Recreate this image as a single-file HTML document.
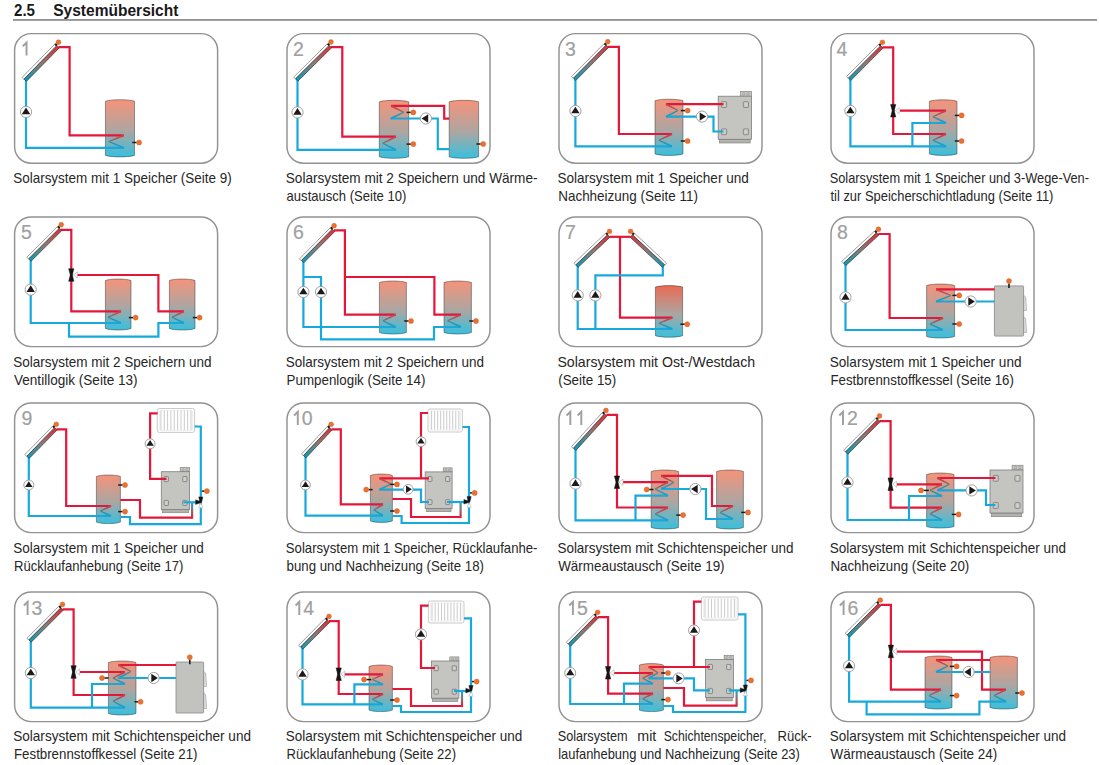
<!DOCTYPE html>
<html><head><meta charset="utf-8"><title>Systemübersicht</title>
<style>
html,body{margin:0;padding:0;background:#fff;width:1099px;height:765px;overflow:hidden}
svg{display:block}
.h{font-family:"Liberation Sans",sans-serif;font-weight:bold;font-size:16.8px;fill:#1a1a1a}
.c{font-family:"Liberation Sans",sans-serif;font-size:14.4px;fill:#262626}
.num{font-family:"Liberation Sans",sans-serif;font-size:19.5px;fill:#a0a0a0;stroke:#a0a0a0;stroke-width:0.2}
</style></head><body>
<svg width="1099" height="765" viewBox="0 0 1099 765">
<text x="14" y="15.7" class="h" textLength="21" lengthAdjust="spacingAndGlyphs">2.5</text>
<text x="53.2" y="15.7" class="h" textLength="125.2" lengthAdjust="spacingAndGlyphs">Systemübersicht</text>
<rect x="13" y="19.2" width="1084" height="1.5" fill="#7a7a7a"/>
<rect x="14.6" y="33.6" width="203" height="129.6" rx="16.5" ry="16.5" fill="#fff" stroke="#929292" stroke-width="1.45"/><path d="M22.85 46.2 L26.55 42.5 L26.55 55.6" fill="none" stroke="#a0a0a0" stroke-width="1.95" stroke-linejoin="miter"/><defs><linearGradient id="g1" x1="0" y1="0" x2="0" y2="1"><stop offset="0" stop-color="#f5937a"/><stop offset="0.55" stop-color="#aca6a2"/><stop offset="1" stop-color="#38c0de"/></linearGradient></defs><path d="M105.45 101.2 C111.26 99.2 128.69 99.2 134.5 101.2 L134.5 155.4 C128.69 157.4 111.26 157.4 105.45 155.4 Z" fill="url(#g1)" stroke="rgba(40,40,40,0.6)" stroke-width="0.75"/><path d="M58.5 47.15 L69.6 47.15 L69.6 135.3 L123.8 135.3" fill="none" stroke="#e3173a" stroke-width="2.2" stroke-linejoin="miter" stroke-linecap="butt"/><path d="M26 80 L26 147.8 L123.8 147.8" fill="none" stroke="#17a9dc" stroke-width="2.2" stroke-linejoin="miter" stroke-linecap="butt"/><defs><linearGradient id="g2" gradientUnits="userSpaceOnUse" x1="123.8" y1="135.3" x2="108.8" y2="141.55"><stop offset="0" stop-color="#d83a40"/><stop offset="1" stop-color="#8a6a66"/></linearGradient></defs><polygon points="123.42,134.38 108.59,141.04 109.01,142.06 124.18,136.22" fill="url(#g2)"/><defs><linearGradient id="g3" gradientUnits="userSpaceOnUse" x1="108.8" y1="141.55" x2="123.8" y2="147.8"><stop offset="0" stop-color="#3a8a98"/><stop offset="1" stop-color="#16a4d4"/></linearGradient></defs><polygon points="108.59,142.06 123.42,148.72 124.18,146.88 109.01,141.04" fill="url(#g3)"/><line x1="132.3" y1="142.5" x2="136.7" y2="142.5" stroke="#1a1a1a" stroke-width="1.5"/><circle cx="139.1" cy="142.5" r="2.55" fill="#ee7030" stroke="#c85a20" stroke-width="0.4"/><circle cx="26" cy="111.9" r="5.6" fill="#fff" stroke="#9c9c9c" stroke-width="0.95"/><polygon points="26,107.6 21.8,114.2 30.2,114.2" fill="#1a1a1a"/><defs><linearGradient id="g4" gradientUnits="userSpaceOnUse" x1="26" y1="81" x2="58.8" y2="47.56"><stop offset="0" stop-color="#0a9cba"/><stop offset="0.5" stop-color="#8e7a76"/><stop offset="1" stop-color="#dc3038"/></linearGradient></defs><polygon points="23.9,79.22 56.49,45.99 54.67,44.21 22.08,77.43" fill="#fff" stroke="#6a6a6a" stroke-width="0.65"/><polygon points="26.39,81.39 59.19,47.95 56.84,45.63 24.04,79.07" fill="url(#g4)" stroke="#2e2e2e" stroke-width="0.65"/><line x1="55.31" y1="45.4" x2="56.78" y2="43.9" stroke="#1a1a1a" stroke-width="2.3"/><circle cx="58.47" cy="42.19" r="2.45" fill="#ee7030" stroke="#c85a20" stroke-width="0.4"/>
<rect x="287" y="33.6" width="203" height="129.6" rx="16.5" ry="16.5" fill="#fff" stroke="#929292" stroke-width="1.45"/><text x="293" y="55.6" class="num">2</text><defs><linearGradient id="g5" x1="0" y1="0" x2="0" y2="1"><stop offset="0" stop-color="#f5937a"/><stop offset="0.55" stop-color="#aca6a2"/><stop offset="1" stop-color="#38c0de"/></linearGradient></defs><path d="M379.3 101.8 C385.18 99.8 402.82 99.8 408.7 101.8 L408.7 156.8 C402.82 158.8 385.18 158.8 379.3 156.8 Z" fill="url(#g5)" stroke="rgba(40,40,40,0.6)" stroke-width="0.75"/><defs><linearGradient id="g6" x1="0" y1="0" x2="0" y2="1"><stop offset="0" stop-color="#f5937a"/><stop offset="0.55" stop-color="#aca6a2"/><stop offset="1" stop-color="#38c0de"/></linearGradient></defs><path d="M449.2 101.8 C455.08 99.8 472.72 99.8 478.6 101.8 L478.6 156.8 C472.72 158.8 455.08 158.8 449.2 156.8 Z" fill="url(#g6)" stroke="rgba(40,40,40,0.6)" stroke-width="0.75"/><path d="M331 47.1 L342.3 47.1 L342.3 136.7 L396 136.7" fill="none" stroke="#e3173a" stroke-width="2.2" stroke-linejoin="miter" stroke-linecap="butt"/><path d="M297.5 79 L297.5 149.8 L396 149.8" fill="none" stroke="#17a9dc" stroke-width="2.2" stroke-linejoin="miter" stroke-linecap="butt"/><defs><linearGradient id="g7" gradientUnits="userSpaceOnUse" x1="396" y1="136.7" x2="382.8" y2="143.25"><stop offset="0" stop-color="#d83a40"/><stop offset="1" stop-color="#8a6a66"/></linearGradient></defs><polygon points="395.56,135.8 382.56,142.76 383.04,143.74 396.44,137.6" fill="url(#g7)"/><defs><linearGradient id="g8" gradientUnits="userSpaceOnUse" x1="382.8" y1="143.25" x2="396" y2="149.8"><stop offset="0" stop-color="#3a8a98"/><stop offset="1" stop-color="#16a4d4"/></linearGradient></defs><polygon points="382.56,143.74 395.56,150.7 396.44,148.9 383.04,142.76" fill="url(#g8)"/><path d="M391 105.9 L444.2 105.9 L444.2 118.6 L449.2 118.6" fill="none" stroke="#e3173a" stroke-width="2.2" stroke-linejoin="miter" stroke-linecap="butt"/><path d="M390.6 118.5 L437.8 118.5 L437.8 149.2 L449.2 149.2" fill="none" stroke="#17a9dc" stroke-width="2.2" stroke-linejoin="miter" stroke-linecap="butt"/><defs><linearGradient id="g9" gradientUnits="userSpaceOnUse" x1="391" y1="105.9" x2="403.8" y2="112.2"><stop offset="0" stop-color="#d83a40"/><stop offset="1" stop-color="#8a6a66"/></linearGradient></defs><polygon points="390.56,106.8 403.56,112.69 404.04,111.71 391.44,105" fill="url(#g9)"/><defs><linearGradient id="g10" gradientUnits="userSpaceOnUse" x1="403.8" y1="112.2" x2="391" y2="118.5"><stop offset="0" stop-color="#3a8a98"/><stop offset="1" stop-color="#16a4d4"/></linearGradient></defs><polygon points="403.56,111.71 390.56,117.6 391.44,119.4 404.04,112.69" fill="url(#g10)"/><line x1="406.5" y1="112.4" x2="410.9" y2="112.4" stroke="#1a1a1a" stroke-width="1.5"/><circle cx="413.3" cy="112.4" r="2.55" fill="#ee7030" stroke="#c85a20" stroke-width="0.4"/><line x1="406.5" y1="144.1" x2="410.9" y2="144.1" stroke="#1a1a1a" stroke-width="1.5"/><circle cx="413.3" cy="144.1" r="2.55" fill="#ee7030" stroke="#c85a20" stroke-width="0.4"/><line x1="476.4" y1="144" x2="480.8" y2="144" stroke="#1a1a1a" stroke-width="1.5"/><circle cx="483.2" cy="144" r="2.55" fill="#ee7030" stroke="#c85a20" stroke-width="0.4"/><circle cx="297.5" cy="112.4" r="5.6" fill="#fff" stroke="#9c9c9c" stroke-width="0.95"/><polygon points="297.5,108.1 293.3,114.7 301.7,114.7" fill="#1a1a1a"/><circle cx="425.9" cy="118.5" r="5.6" fill="#fff" stroke="#9c9c9c" stroke-width="0.95"/><polygon points="421.6,118.5 428.2,114.3 428.2,122.7" fill="#1a1a1a"/><defs><linearGradient id="g11" gradientUnits="userSpaceOnUse" x1="297.5" y1="80.75" x2="331.2" y2="47.4"><stop offset="0" stop-color="#0a9cba"/><stop offset="0.5" stop-color="#8e7a76"/><stop offset="1" stop-color="#dc3038"/></linearGradient></defs><polygon points="295.42,78.94 328.91,45.8 327.12,43.98 293.63,77.12" fill="#fff" stroke="#6a6a6a" stroke-width="0.65"/><polygon points="297.89,81.14 331.59,47.79 329.27,45.45 295.57,78.8" fill="url(#g11)" stroke="#2e2e2e" stroke-width="0.65"/><line x1="327.75" y1="45.19" x2="329.24" y2="43.71" stroke="#1a1a1a" stroke-width="2.3"/><circle cx="330.95" cy="42.02" r="2.45" fill="#ee7030" stroke="#c85a20" stroke-width="0.4"/>
<rect x="559" y="33.6" width="203" height="129.6" rx="16.5" ry="16.5" fill="#fff" stroke="#929292" stroke-width="1.45"/><text x="565" y="55.6" class="num">3</text><defs><linearGradient id="g12" x1="0" y1="0" x2="0" y2="1"><stop offset="0" stop-color="#f5937a"/><stop offset="0.55" stop-color="#aca6a2"/><stop offset="1" stop-color="#38c0de"/></linearGradient></defs><path d="M655 100.7 C660.6 98.7 677.4 98.7 683 100.7 L683 153.9 C677.4 155.9 660.6 155.9 655 153.9 Z" fill="url(#g12)" stroke="rgba(40,40,40,0.6)" stroke-width="0.75"/><rect x="719.53" y="139.3" width="30.64" height="3.66" fill="#b2b2ae" stroke="#858585" stroke-width="0.7"/><rect x="740.51" y="91.46" width="10.99" height="4.74" fill="#c8c8c4" stroke="#858585" stroke-width="0.7"/><circle cx="743.81" cy="93.83" r="1.19" fill="none" stroke="#888" stroke-width="0.5"/><circle cx="748.2" cy="93.83" r="1.19" fill="none" stroke="#888" stroke-width="0.5"/><rect x="718.2" y="96.2" width="33.3" height="43.1" fill="#c4c4c0" stroke="#7e7e7e" stroke-width="0.8"/><rect x="721.46" y="101.67" width="5.16" height="5.82" rx="0.7" fill="#c8c8c4" stroke="#777" stroke-width="0.75"/><line x1="724.04" y1="102.67" x2="724.04" y2="106.49" stroke="#e4e4e0" stroke-width="0.5"/><rect x="721.46" y="128.87" width="5.16" height="5.82" rx="0.7" fill="#c8c8c4" stroke="#777" stroke-width="0.75"/><line x1="724.04" y1="129.87" x2="724.04" y2="133.69" stroke="#e4e4e0" stroke-width="0.5"/><rect x="743.34" y="101.67" width="5.16" height="5.82" rx="0.7" fill="#c8c8c4" stroke="#777" stroke-width="0.75"/><line x1="745.92" y1="102.67" x2="745.92" y2="106.49" stroke="#e4e4e0" stroke-width="0.5"/><rect x="743.34" y="128.87" width="5.16" height="5.82" rx="0.7" fill="#c8c8c4" stroke="#777" stroke-width="0.75"/><line x1="745.92" y1="129.87" x2="745.92" y2="133.69" stroke="#e4e4e0" stroke-width="0.5"/><path d="M607.6 46.8 L618.9 46.8 L618.9 134 L672 134" fill="none" stroke="#e3173a" stroke-width="2.2" stroke-linejoin="miter" stroke-linecap="butt"/><path d="M575.4 79 L575.4 146.4 L672 146.4" fill="none" stroke="#17a9dc" stroke-width="2.2" stroke-linejoin="miter" stroke-linecap="butt"/><defs><linearGradient id="g13" gradientUnits="userSpaceOnUse" x1="672" y1="134" x2="659" y2="140.2"><stop offset="0" stop-color="#d83a40"/><stop offset="1" stop-color="#8a6a66"/></linearGradient></defs><polygon points="671.57,133.1 658.76,139.7 659.24,140.7 672.43,134.9" fill="url(#g13)"/><defs><linearGradient id="g14" gradientUnits="userSpaceOnUse" x1="659" y1="140.2" x2="672" y2="146.4"><stop offset="0" stop-color="#3a8a98"/><stop offset="1" stop-color="#16a4d4"/></linearGradient></defs><polygon points="658.76,140.7 671.57,147.3 672.43,145.5 659.24,139.7" fill="url(#g14)"/><path d="M666 104.2 L723.5 104.2" fill="none" stroke="#e3173a" stroke-width="2.2" stroke-linejoin="miter" stroke-linecap="butt"/><path d="M666 116.6 L713.5 116.6 L713.5 131.5 L723.5 131.5" fill="none" stroke="#17a9dc" stroke-width="2.2" stroke-linejoin="miter" stroke-linecap="butt"/><defs><linearGradient id="g15" gradientUnits="userSpaceOnUse" x1="666" y1="104.2" x2="678" y2="110.4"><stop offset="0" stop-color="#d83a40"/><stop offset="1" stop-color="#8a6a66"/></linearGradient></defs><polygon points="665.54,105.09 677.75,110.89 678.25,109.91 666.46,103.31" fill="url(#g15)"/><defs><linearGradient id="g16" gradientUnits="userSpaceOnUse" x1="678" y1="110.4" x2="666" y2="116.6"><stop offset="0" stop-color="#3a8a98"/><stop offset="1" stop-color="#16a4d4"/></linearGradient></defs><polygon points="677.75,109.91 665.54,115.71 666.46,117.49 678.25,110.89" fill="url(#g16)"/><line x1="680.8" y1="110.6" x2="685.2" y2="110.6" stroke="#1a1a1a" stroke-width="1.5"/><circle cx="687.6" cy="110.6" r="2.55" fill="#ee7030" stroke="#c85a20" stroke-width="0.4"/><line x1="680.8" y1="141" x2="685.2" y2="141" stroke="#1a1a1a" stroke-width="1.5"/><circle cx="687.6" cy="141" r="2.55" fill="#ee7030" stroke="#c85a20" stroke-width="0.4"/><circle cx="575.4" cy="111" r="5.6" fill="#fff" stroke="#9c9c9c" stroke-width="0.95"/><polygon points="575.4,106.7 571.2,113.3 579.6,113.3" fill="#1a1a1a"/><circle cx="702" cy="116.6" r="5.6" fill="#fff" stroke="#9c9c9c" stroke-width="0.95"/><polygon points="706.3,116.6 699.7,112.4 699.7,120.8" fill="#1a1a1a"/><defs><linearGradient id="g17" gradientUnits="userSpaceOnUse" x1="575.4" y1="80.1" x2="608.1" y2="47.1"><stop offset="0" stop-color="#0a9cba"/><stop offset="0.5" stop-color="#8e7a76"/><stop offset="1" stop-color="#dc3038"/></linearGradient></defs><polygon points="573.31,78.31 605.79,45.52 603.98,43.72 571.49,76.51" fill="#fff" stroke="#6a6a6a" stroke-width="0.65"/><polygon points="575.79,80.49 608.49,47.49 606.15,45.16 573.45,78.16" fill="url(#g17)" stroke="#2e2e2e" stroke-width="0.65"/><line x1="604.63" y1="44.92" x2="606.1" y2="43.43" stroke="#1a1a1a" stroke-width="2.3"/><circle cx="607.79" cy="41.73" r="2.45" fill="#ee7030" stroke="#c85a20" stroke-width="0.4"/>
<rect x="831" y="33.6" width="203" height="129.6" rx="16.5" ry="16.5" fill="#fff" stroke="#929292" stroke-width="1.45"/><text x="836.4" y="55.6" class="num">4</text><defs><linearGradient id="g18" x1="0" y1="0" x2="0" y2="1"><stop offset="0" stop-color="#f5937a"/><stop offset="0.55" stop-color="#aca6a2"/><stop offset="1" stop-color="#38c0de"/></linearGradient></defs><path d="M929.4 101.3 C934.92 99.3 951.48 99.3 957 101.3 L957 153.9 C951.48 155.9 934.92 155.9 929.4 153.9 Z" fill="url(#g18)" stroke="rgba(40,40,40,0.6)" stroke-width="0.75"/><path d="M882.5 47.4 L893.2 47.4 L893.2 134 L946 134" fill="none" stroke="#e3173a" stroke-width="2.2" stroke-linejoin="miter" stroke-linecap="butt"/><path d="M900 110.6 L946 110.6" fill="none" stroke="#e3173a" stroke-width="2.2" stroke-linejoin="miter" stroke-linecap="butt"/><path d="M850.4 79 L850.4 146.4 L946 146.4" fill="none" stroke="#17a9dc" stroke-width="2.2" stroke-linejoin="miter" stroke-linecap="butt"/><path d="M946 123 L912.4 123 L912.4 146.4" fill="none" stroke="#17a9dc" stroke-width="2.2" stroke-linejoin="miter" stroke-linecap="butt"/><defs><linearGradient id="g19" gradientUnits="userSpaceOnUse" x1="946" y1="110.6" x2="933" y2="116.8"><stop offset="0" stop-color="#d83a40"/><stop offset="1" stop-color="#8a6a66"/></linearGradient></defs><polygon points="945.57,109.7 932.76,116.3 933.24,117.3 946.43,111.5" fill="url(#g19)"/><defs><linearGradient id="g20" gradientUnits="userSpaceOnUse" x1="933" y1="116.8" x2="946" y2="123"><stop offset="0" stop-color="#3a8a98"/><stop offset="1" stop-color="#16a4d4"/></linearGradient></defs><polygon points="932.76,117.3 945.57,123.9 946.43,122.1 933.24,116.3" fill="url(#g20)"/><defs><linearGradient id="g21" gradientUnits="userSpaceOnUse" x1="946" y1="134" x2="933" y2="140.2"><stop offset="0" stop-color="#d83a40"/><stop offset="1" stop-color="#8a6a66"/></linearGradient></defs><polygon points="945.57,133.1 932.76,139.7 933.24,140.7 946.43,134.9" fill="url(#g21)"/><defs><linearGradient id="g22" gradientUnits="userSpaceOnUse" x1="933" y1="140.2" x2="946" y2="146.4"><stop offset="0" stop-color="#3a8a98"/><stop offset="1" stop-color="#16a4d4"/></linearGradient></defs><polygon points="932.76,140.7 945.57,147.3 946.43,145.5 933.24,139.7" fill="url(#g22)"/><line x1="954.8" y1="115.4" x2="959.2" y2="115.4" stroke="#1a1a1a" stroke-width="1.5"/><circle cx="961.6" cy="115.4" r="2.55" fill="#ee7030" stroke="#c85a20" stroke-width="0.4"/><line x1="954.8" y1="141" x2="959.2" y2="141" stroke="#1a1a1a" stroke-width="1.5"/><circle cx="961.6" cy="141" r="2.55" fill="#ee7030" stroke="#c85a20" stroke-width="0.4"/><polygon points="890.6,104.4 895.8,104.4 894.2,110.7 892.2,110.7" fill="#151515" stroke="#151515" stroke-width="0.5" stroke-linejoin="round"/><polygon points="890.6,117 895.8,117 894.2,110.7 892.2,110.7" fill="#151515" stroke="#151515" stroke-width="0.5" stroke-linejoin="round"/><polygon points="895.3,110.7 899.2,107.6 899.2,113.8" fill="#fff" stroke="#a8a8a8" stroke-width="0.6" stroke-linejoin="round"/><circle cx="850.4" cy="111" r="5.6" fill="#fff" stroke="#9c9c9c" stroke-width="0.95"/><polygon points="850.4,106.7 846.2,113.3 854.6,113.3" fill="#1a1a1a"/><defs><linearGradient id="g23" gradientUnits="userSpaceOnUse" x1="850.4" y1="80.1" x2="882.7" y2="47.7"><stop offset="0" stop-color="#0a9cba"/><stop offset="0.5" stop-color="#8e7a76"/><stop offset="1" stop-color="#dc3038"/></linearGradient></defs><polygon points="848.31,78.3 880.4,46.11 878.59,44.31 846.51,76.5" fill="#fff" stroke="#6a6a6a" stroke-width="0.65"/><polygon points="850.79,80.49 883.09,48.09 880.75,45.76 848.45,78.16" fill="url(#g23)" stroke="#2e2e2e" stroke-width="0.65"/><line x1="879.23" y1="45.51" x2="880.71" y2="44.03" stroke="#1a1a1a" stroke-width="2.3"/><circle cx="882.41" cy="42.33" r="2.45" fill="#ee7030" stroke="#c85a20" stroke-width="0.4"/>
<rect x="14.6" y="217" width="203" height="129.6" rx="16.5" ry="16.5" fill="#fff" stroke="#929292" stroke-width="1.45"/><text x="21" y="238.5" class="num">5</text><defs><linearGradient id="g24" x1="0" y1="0" x2="0" y2="1"><stop offset="0" stop-color="#f5937a"/><stop offset="0.55" stop-color="#aca6a2"/><stop offset="1" stop-color="#38c0de"/></linearGradient></defs><path d="M105.4 280.5 C110.52 278.5 125.88 278.5 131 280.5 L131 328.5 C125.88 330.5 110.52 330.5 105.4 328.5 Z" fill="url(#g24)" stroke="rgba(40,40,40,0.6)" stroke-width="0.75"/><defs><linearGradient id="g25" x1="0" y1="0" x2="0" y2="1"><stop offset="0" stop-color="#f5937a"/><stop offset="0.55" stop-color="#aca6a2"/><stop offset="1" stop-color="#38c0de"/></linearGradient></defs><path d="M169.4 280.5 C174.52 278.5 189.88 278.5 195 280.5 L195 328.5 C189.88 330.5 174.52 330.5 169.4 328.5 Z" fill="url(#g25)" stroke="rgba(40,40,40,0.6)" stroke-width="0.75"/><path d="M61 229.8 L71.3 229.8 L71.3 311.4 L121 311.4" fill="none" stroke="#e3173a" stroke-width="2.2" stroke-linejoin="miter" stroke-linecap="butt"/><path d="M77 275 L158.4 275 L158.4 311.4 L184 311.4" fill="none" stroke="#e3173a" stroke-width="2.2" stroke-linejoin="miter" stroke-linecap="butt"/><path d="M30.7 260 L30.7 323 L121 323" fill="none" stroke="#17a9dc" stroke-width="2.2" stroke-linejoin="miter" stroke-linecap="butt"/><path d="M69 323 L69 336.6 L158.4 336.6 L158.4 323 L184 323" fill="none" stroke="#17a9dc" stroke-width="2.2" stroke-linejoin="miter" stroke-linecap="butt"/><defs><linearGradient id="g26" gradientUnits="userSpaceOnUse" x1="121" y1="311.4" x2="108" y2="317.2"><stop offset="0" stop-color="#d83a40"/><stop offset="1" stop-color="#8a6a66"/></linearGradient></defs><polygon points="120.59,310.49 107.78,316.7 108.22,317.7 121.41,312.31" fill="url(#g26)"/><defs><linearGradient id="g27" gradientUnits="userSpaceOnUse" x1="108" y1="317.2" x2="121" y2="323"><stop offset="0" stop-color="#3a8a98"/><stop offset="1" stop-color="#16a4d4"/></linearGradient></defs><polygon points="107.78,317.7 120.59,323.91 121.41,322.09 108.22,316.7" fill="url(#g27)"/><defs><linearGradient id="g28" gradientUnits="userSpaceOnUse" x1="184" y1="311.4" x2="172" y2="317.2"><stop offset="0" stop-color="#d83a40"/><stop offset="1" stop-color="#8a6a66"/></linearGradient></defs><polygon points="183.56,310.5 171.76,316.7 172.24,317.7 184.44,312.3" fill="url(#g28)"/><defs><linearGradient id="g29" gradientUnits="userSpaceOnUse" x1="172" y1="317.2" x2="184" y2="323"><stop offset="0" stop-color="#3a8a98"/><stop offset="1" stop-color="#16a4d4"/></linearGradient></defs><polygon points="171.76,317.7 183.56,323.9 184.44,322.1 172.24,316.7" fill="url(#g29)"/><line x1="128.8" y1="317.6" x2="133.2" y2="317.6" stroke="#1a1a1a" stroke-width="1.5"/><circle cx="135.6" cy="317.6" r="2.55" fill="#ee7030" stroke="#c85a20" stroke-width="0.4"/><line x1="192.8" y1="317.6" x2="197.2" y2="317.6" stroke="#1a1a1a" stroke-width="1.5"/><circle cx="199.6" cy="317.6" r="2.55" fill="#ee7030" stroke="#c85a20" stroke-width="0.4"/><polygon points="68.7,268.7 73.9,268.7 72.3,275 70.3,275" fill="#151515" stroke="#151515" stroke-width="0.5" stroke-linejoin="round"/><polygon points="68.7,281.3 73.9,281.3 72.3,275 70.3,275" fill="#151515" stroke="#151515" stroke-width="0.5" stroke-linejoin="round"/><polygon points="73.4,275 77.3,271.9 77.3,278.1" fill="#fff" stroke="#a8a8a8" stroke-width="0.6" stroke-linejoin="round"/><circle cx="30.7" cy="289.6" r="5.6" fill="#fff" stroke="#9c9c9c" stroke-width="0.95"/><polygon points="30.7,285.3 26.5,291.9 34.9,291.9" fill="#1a1a1a"/><defs><linearGradient id="g30" gradientUnits="userSpaceOnUse" x1="30.7" y1="260.8" x2="61.5" y2="230.1"><stop offset="0" stop-color="#0a9cba"/><stop offset="0.5" stop-color="#8e7a76"/><stop offset="1" stop-color="#dc3038"/></linearGradient></defs><polygon points="28.62,258.99 59.2,228.51 57.4,226.7 26.82,257.19" fill="#fff" stroke="#6a6a6a" stroke-width="0.65"/><polygon points="31.09,261.19 61.89,230.49 59.56,228.15 28.76,258.85" fill="url(#g30)" stroke="#2e2e2e" stroke-width="0.65"/><line x1="58.04" y1="227.9" x2="59.53" y2="226.42" stroke="#1a1a1a" stroke-width="2.3"/><circle cx="61.23" cy="224.73" r="2.45" fill="#ee7030" stroke="#c85a20" stroke-width="0.4"/>
<rect x="287" y="217" width="203" height="129.6" rx="16.5" ry="16.5" fill="#fff" stroke="#929292" stroke-width="1.45"/><text x="293" y="238.5" class="num">6</text><defs><linearGradient id="g31" x1="0" y1="0" x2="0" y2="1"><stop offset="0" stop-color="#f5937a"/><stop offset="0.55" stop-color="#aca6a2"/><stop offset="1" stop-color="#38c0de"/></linearGradient></defs><path d="M379.4 282.5 C384.8 280.5 401 280.5 406.4 282.5 L406.4 332.5 C401 334.5 384.8 334.5 379.4 332.5 Z" fill="url(#g31)" stroke="rgba(40,40,40,0.6)" stroke-width="0.75"/><defs><linearGradient id="g32" x1="0" y1="0" x2="0" y2="1"><stop offset="0" stop-color="#f5937a"/><stop offset="0.55" stop-color="#aca6a2"/><stop offset="1" stop-color="#38c0de"/></linearGradient></defs><path d="M444 282.5 C449.48 280.5 465.92 280.5 471.4 282.5 L471.4 332.5 C465.92 334.5 449.48 334.5 444 332.5 Z" fill="url(#g32)" stroke="rgba(40,40,40,0.6)" stroke-width="0.75"/><path d="M334 230.4 L344.9 230.4 L344.9 314.6 L395.6 314.6" fill="none" stroke="#e3173a" stroke-width="2.2" stroke-linejoin="miter" stroke-linecap="butt"/><path d="M344.9 277 L434.4 277 L434.4 314.6 L461 314.6" fill="none" stroke="#e3173a" stroke-width="2.2" stroke-linejoin="miter" stroke-linecap="butt"/><path d="M303.4 261 L303.4 327 L395.6 327" fill="none" stroke="#17a9dc" stroke-width="2.2" stroke-linejoin="miter" stroke-linecap="butt"/><path d="M303.4 277 L321 277 L321 339.4 L434 339.4 L434 327 L461 327" fill="none" stroke="#17a9dc" stroke-width="2.2" stroke-linejoin="miter" stroke-linecap="butt"/><defs><linearGradient id="g33" gradientUnits="userSpaceOnUse" x1="395.6" y1="314.6" x2="383" y2="320.8"><stop offset="0" stop-color="#d83a40"/><stop offset="1" stop-color="#8a6a66"/></linearGradient></defs><polygon points="395.16,313.7 382.76,320.31 383.24,321.29 396.04,315.5" fill="url(#g33)"/><defs><linearGradient id="g34" gradientUnits="userSpaceOnUse" x1="383" y1="320.8" x2="395.6" y2="327"><stop offset="0" stop-color="#3a8a98"/><stop offset="1" stop-color="#16a4d4"/></linearGradient></defs><polygon points="382.76,321.29 395.16,327.9 396.04,326.1 383.24,320.31" fill="url(#g34)"/><defs><linearGradient id="g35" gradientUnits="userSpaceOnUse" x1="461" y1="314.6" x2="447.6" y2="320.8"><stop offset="0" stop-color="#d83a40"/><stop offset="1" stop-color="#8a6a66"/></linearGradient></defs><polygon points="460.58,313.69 447.37,320.3 447.83,321.3 461.42,315.51" fill="url(#g35)"/><defs><linearGradient id="g36" gradientUnits="userSpaceOnUse" x1="447.6" y1="320.8" x2="461" y2="327"><stop offset="0" stop-color="#3a8a98"/><stop offset="1" stop-color="#16a4d4"/></linearGradient></defs><polygon points="447.37,321.3 460.58,327.91 461.42,326.09 447.83,320.3" fill="url(#g36)"/><line x1="404.2" y1="321" x2="408.6" y2="321" stroke="#1a1a1a" stroke-width="1.5"/><circle cx="411" cy="321" r="2.55" fill="#ee7030" stroke="#c85a20" stroke-width="0.4"/><line x1="469.2" y1="321" x2="473.6" y2="321" stroke="#1a1a1a" stroke-width="1.5"/><circle cx="476" cy="321" r="2.55" fill="#ee7030" stroke="#c85a20" stroke-width="0.4"/><circle cx="303.4" cy="292" r="5.6" fill="#fff" stroke="#9c9c9c" stroke-width="0.95"/><polygon points="303.4,287.7 299.2,294.3 307.6,294.3" fill="#1a1a1a"/><circle cx="321" cy="292" r="5.6" fill="#fff" stroke="#9c9c9c" stroke-width="0.95"/><polygon points="321,287.7 316.8,294.3 325.2,294.3" fill="#1a1a1a"/><defs><linearGradient id="g37" gradientUnits="userSpaceOnUse" x1="303.4" y1="262.4" x2="334.4" y2="231.1"><stop offset="0" stop-color="#0a9cba"/><stop offset="0.5" stop-color="#8e7a76"/><stop offset="1" stop-color="#dc3038"/></linearGradient></defs><polygon points="301.31,260.61 332.09,229.52 330.28,227.73 299.49,258.81" fill="#fff" stroke="#6a6a6a" stroke-width="0.65"/><polygon points="303.79,262.79 334.79,231.49 332.45,229.16 301.45,260.46" fill="url(#g37)" stroke="#2e2e2e" stroke-width="0.65"/><line x1="330.92" y1="228.92" x2="332.4" y2="227.43" stroke="#1a1a1a" stroke-width="2.3"/><circle cx="334.09" cy="225.73" r="2.45" fill="#ee7030" stroke="#c85a20" stroke-width="0.4"/>
<rect x="559" y="217" width="203" height="129.6" rx="16.5" ry="16.5" fill="#fff" stroke="#929292" stroke-width="1.45"/><text x="565.1" y="238.5" class="num">7</text><defs><linearGradient id="g38" x1="0" y1="0" x2="0" y2="1"><stop offset="0" stop-color="#ea6a52"/><stop offset="0.55" stop-color="#aca6a2"/><stop offset="1" stop-color="#38c0de"/></linearGradient></defs><path d="M655.4 287.1 C660.84 285.1 677.16 285.1 682.6 287.1 L682.6 335.7 C677.16 337.7 660.84 337.7 655.4 335.7 Z" fill="url(#g38)" stroke="rgba(40,40,40,0.6)" stroke-width="0.75"/><path d="M609.6 236.8 L630.5 236.8" fill="none" stroke="#e3173a" stroke-width="2.2" stroke-linejoin="miter" stroke-linecap="butt"/><path d="M620 236.8 L620 317.6 L672.4 317.6" fill="none" stroke="#e3173a" stroke-width="2.2" stroke-linejoin="miter" stroke-linecap="butt"/><path d="M577.7 265 L577.7 329 L672.4 329" fill="none" stroke="#17a9dc" stroke-width="2.2" stroke-linejoin="miter" stroke-linecap="butt"/><path d="M662.8 265 L662.8 275.4 L595.4 275.4 L595.4 329" fill="none" stroke="#17a9dc" stroke-width="2.2" stroke-linejoin="miter" stroke-linecap="butt"/><defs><linearGradient id="g39" gradientUnits="userSpaceOnUse" x1="672.4" y1="317.6" x2="659" y2="323.3"><stop offset="0" stop-color="#d83a40"/><stop offset="1" stop-color="#8a6a66"/></linearGradient></defs><polygon points="672.01,316.68 658.78,322.79 659.22,323.81 672.79,318.52" fill="url(#g39)"/><defs><linearGradient id="g40" gradientUnits="userSpaceOnUse" x1="659" y1="323.3" x2="672.4" y2="329"><stop offset="0" stop-color="#3a8a98"/><stop offset="1" stop-color="#16a4d4"/></linearGradient></defs><polygon points="658.78,323.81 672.01,329.92 672.79,328.08 659.22,322.79" fill="url(#g40)"/><line x1="680.4" y1="324.2" x2="684.8" y2="324.2" stroke="#1a1a1a" stroke-width="1.5"/><circle cx="687.2" cy="324.2" r="2.55" fill="#ee7030" stroke="#c85a20" stroke-width="0.4"/><circle cx="577.7" cy="295.4" r="5.6" fill="#fff" stroke="#9c9c9c" stroke-width="0.95"/><polygon points="577.7,291.1 573.5,297.7 581.9,297.7" fill="#1a1a1a"/><circle cx="595.4" cy="295.4" r="5.6" fill="#fff" stroke="#9c9c9c" stroke-width="0.95"/><polygon points="595.4,291.1 591.2,297.7 599.6,297.7" fill="#1a1a1a"/><defs><linearGradient id="g41" gradientUnits="userSpaceOnUse" x1="577.7" y1="266.9" x2="609.6" y2="236.8"><stop offset="0" stop-color="#0a9cba"/><stop offset="0.5" stop-color="#8e7a76"/><stop offset="1" stop-color="#dc3038"/></linearGradient></defs><polygon points="575.67,265.04 607.35,235.14 605.6,233.29 573.92,263.18" fill="#fff" stroke="#6a6a6a" stroke-width="0.65"/><polygon points="578.08,267.3 609.98,237.2 607.71,234.8 575.81,264.9" fill="url(#g41)" stroke="#2e2e2e" stroke-width="0.65"/><line x1="606.2" y1="234.51" x2="607.73" y2="233.07" stroke="#1a1a1a" stroke-width="2.3"/><circle cx="609.47" cy="231.42" r="2.45" fill="#ee7030" stroke="#c85a20" stroke-width="0.4"/><defs><linearGradient id="g42" gradientUnits="userSpaceOnUse" x1="662.8" y1="266.9" x2="630.5" y2="236.8"><stop offset="0" stop-color="#0a9cba"/><stop offset="0.5" stop-color="#8e7a76"/><stop offset="1" stop-color="#dc3038"/></linearGradient></defs><polygon points="664.82,265.02 632.74,235.13 634.48,233.26 666.56,263.16" fill="#fff" stroke="#6a6a6a" stroke-width="0.65"/><polygon points="662.43,267.3 630.13,237.2 632.37,234.79 664.67,264.89" fill="url(#g42)" stroke="#2e2e2e" stroke-width="0.65"/><line x1="633.89" y1="234.49" x2="632.35" y2="233.06" stroke="#1a1a1a" stroke-width="2.3"/><circle cx="630.59" cy="231.42" r="2.45" fill="#ee7030" stroke="#c85a20" stroke-width="0.4"/>
<rect x="831" y="217" width="203" height="129.6" rx="16.5" ry="16.5" fill="#fff" stroke="#929292" stroke-width="1.45"/><text x="837" y="238.5" class="num">8</text><defs><linearGradient id="g43" x1="0" y1="0" x2="0" y2="1"><stop offset="0" stop-color="#f5937a"/><stop offset="0.55" stop-color="#aca6a2"/><stop offset="1" stop-color="#38c0de"/></linearGradient></defs><path d="M926.6 285.5 C932.2 283.5 949 283.5 954.6 285.5 L954.6 336.5 C949 338.5 932.2 338.5 926.6 336.5 Z" fill="url(#g43)" stroke="rgba(40,40,40,0.6)" stroke-width="0.75"/><path d="M1023.6 295.4 L1025.6 296.9 L1026.6 310.5 L1023.6 310.5 Z" fill="#e0e0dc" stroke="#9a9a9a" stroke-width="0.6"/><path d="M1023.6 316.9 L1025.6 318.4 L1026.6 332.4 L1023.6 332.4 Z" fill="#e0e0dc" stroke="#9a9a9a" stroke-width="0.6"/><rect x="994.4" y="285.9" width="29.2" height="50.2" rx="0.8" fill="#c2c2be" stroke="#888" stroke-width="0.8"/><line x1="1009" y1="288.1" x2="1009" y2="283.4" stroke="#1a1a1a" stroke-width="1.6"/><circle cx="1009" cy="281.1" r="2.5" fill="#ee7030" stroke="#c85a20" stroke-width="0.4"/><path d="M878.3 234 L889.6 234 L889.6 318 L943 318" fill="none" stroke="#e3173a" stroke-width="2.2" stroke-linejoin="miter" stroke-linecap="butt"/><path d="M845.5 264 L845.5 330 L943 330" fill="none" stroke="#17a9dc" stroke-width="2.2" stroke-linejoin="miter" stroke-linecap="butt"/><defs><linearGradient id="g44" gradientUnits="userSpaceOnUse" x1="943" y1="318" x2="930" y2="324"><stop offset="0" stop-color="#d83a40"/><stop offset="1" stop-color="#8a6a66"/></linearGradient></defs><polygon points="942.58,317.09 929.77,323.5 930.23,324.5 943.42,318.91" fill="url(#g44)"/><defs><linearGradient id="g45" gradientUnits="userSpaceOnUse" x1="930" y1="324" x2="943" y2="330"><stop offset="0" stop-color="#3a8a98"/><stop offset="1" stop-color="#16a4d4"/></linearGradient></defs><polygon points="929.77,324.5 942.58,330.91 943.42,329.09 930.23,323.5" fill="url(#g45)"/><path d="M936 289.4 L994.6 289.4" fill="none" stroke="#e3173a" stroke-width="2.2" stroke-linejoin="miter" stroke-linecap="butt"/><path d="M936 301.5 L994.6 301.5" fill="none" stroke="#17a9dc" stroke-width="2.2" stroke-linejoin="miter" stroke-linecap="butt"/><defs><linearGradient id="g46" gradientUnits="userSpaceOnUse" x1="936" y1="289.4" x2="951" y2="295.45"><stop offset="0" stop-color="#d83a40"/><stop offset="1" stop-color="#8a6a66"/></linearGradient></defs><polygon points="935.63,290.33 950.79,295.96 951.21,294.94 936.37,288.47" fill="url(#g46)"/><defs><linearGradient id="g47" gradientUnits="userSpaceOnUse" x1="951" y1="295.45" x2="936" y2="301.5"><stop offset="0" stop-color="#3a8a98"/><stop offset="1" stop-color="#16a4d4"/></linearGradient></defs><polygon points="950.79,294.94 935.63,300.57 936.37,302.43 951.21,295.96" fill="url(#g47)"/><line x1="952.4" y1="295.4" x2="956.8" y2="295.4" stroke="#1a1a1a" stroke-width="1.5"/><circle cx="959.2" cy="295.4" r="2.55" fill="#ee7030" stroke="#c85a20" stroke-width="0.4"/><line x1="952.4" y1="324" x2="956.8" y2="324" stroke="#1a1a1a" stroke-width="1.5"/><circle cx="959.2" cy="324" r="2.55" fill="#ee7030" stroke="#c85a20" stroke-width="0.4"/><circle cx="845.5" cy="297.4" r="5.6" fill="#fff" stroke="#9c9c9c" stroke-width="0.95"/><polygon points="845.5,293.1 841.3,299.7 849.7,299.7" fill="#1a1a1a"/><circle cx="970.6" cy="301.5" r="5.6" fill="#fff" stroke="#9c9c9c" stroke-width="0.95"/><polygon points="974.9,301.5 968.3,297.3 968.3,305.7" fill="#1a1a1a"/><defs><linearGradient id="g48" gradientUnits="userSpaceOnUse" x1="845.5" y1="265.1" x2="878.5" y2="234.7"><stop offset="0" stop-color="#0a9cba"/><stop offset="0.5" stop-color="#8e7a76"/><stop offset="1" stop-color="#dc3038"/></linearGradient></defs><polygon points="843.49,263.21 876.27,233.02 874.54,231.14 841.76,261.34" fill="#fff" stroke="#6a6a6a" stroke-width="0.65"/><polygon points="845.87,265.5 878.87,235.1 876.64,232.68 843.64,263.08" fill="url(#g48)" stroke="#2e2e2e" stroke-width="0.65"/><line x1="875.13" y1="232.37" x2="876.67" y2="230.95" stroke="#1a1a1a" stroke-width="2.3"/><circle cx="878.44" cy="229.32" r="2.45" fill="#ee7030" stroke="#c85a20" stroke-width="0.4"/>
<rect x="14.6" y="403" width="203" height="129.6" rx="16.5" ry="16.5" fill="#fff" stroke="#929292" stroke-width="1.45"/><text x="21.5" y="424.9" class="num">9</text><defs><linearGradient id="g49" x1="0" y1="0" x2="0" y2="1"><stop offset="0" stop-color="#f5937a"/><stop offset="0.55" stop-color="#aca6a2"/><stop offset="1" stop-color="#38c0de"/></linearGradient></defs><path d="M96.4 476.5 C101.2 474.5 115.6 474.5 120.4 476.5 L120.4 522.1 C115.6 524.1 101.2 524.1 96.4 522.1 Z" fill="url(#g49)" stroke="rgba(40,40,40,0.6)" stroke-width="0.75"/><rect x="162.43" y="509.5" width="26.04" height="3.21" fill="#b2b2ae" stroke="#858585" stroke-width="0.7"/><rect x="180.26" y="467.54" width="9.34" height="4.16" fill="#c8c8c4" stroke="#858585" stroke-width="0.7"/><circle cx="183.06" cy="469.62" r="1.04" fill="none" stroke="#888" stroke-width="0.5"/><circle cx="186.8" cy="469.62" r="1.04" fill="none" stroke="#888" stroke-width="0.5"/><rect x="161.3" y="471.7" width="28.3" height="37.8" fill="#c4c4c0" stroke="#7e7e7e" stroke-width="0.8"/><rect x="164.07" y="476.5" width="4.39" height="5.1" rx="0.7" fill="#c8c8c4" stroke="#777" stroke-width="0.75"/><line x1="166.27" y1="477.5" x2="166.27" y2="480.6" stroke="#e4e4e0" stroke-width="0.5"/><rect x="164.07" y="500.35" width="4.39" height="5.1" rx="0.7" fill="#c8c8c4" stroke="#777" stroke-width="0.75"/><line x1="166.27" y1="501.35" x2="166.27" y2="504.46" stroke="#e4e4e0" stroke-width="0.5"/><rect x="182.67" y="476.5" width="4.39" height="5.1" rx="0.7" fill="#c8c8c4" stroke="#777" stroke-width="0.75"/><line x1="184.86" y1="477.5" x2="184.86" y2="480.6" stroke="#e4e4e0" stroke-width="0.5"/><rect x="182.67" y="500.35" width="4.39" height="5.1" rx="0.7" fill="#c8c8c4" stroke="#777" stroke-width="0.75"/><line x1="184.86" y1="501.35" x2="184.86" y2="504.46" stroke="#e4e4e0" stroke-width="0.5"/><rect x="157.3" y="408.5" width="37.3" height="23.9" rx="2" fill="#fff" stroke="#c4c4c4" stroke-width="0.9"/><rect x="159.3" y="410.3" width="33.3" height="20.3" rx="1" fill="none" stroke="#dcdcdc" stroke-width="0.5"/><line x1="160.9" y1="410.7" x2="160.9" y2="430" stroke="#a8a8a8" stroke-width="0.6"/><line x1="164.24" y1="410.7" x2="164.24" y2="430" stroke="#a8a8a8" stroke-width="0.6"/><line x1="167.59" y1="410.7" x2="167.59" y2="430" stroke="#a8a8a8" stroke-width="0.6"/><line x1="170.93" y1="410.7" x2="170.93" y2="430" stroke="#a8a8a8" stroke-width="0.6"/><line x1="174.28" y1="410.7" x2="174.28" y2="430" stroke="#a8a8a8" stroke-width="0.6"/><line x1="177.62" y1="410.7" x2="177.62" y2="430" stroke="#a8a8a8" stroke-width="0.6"/><line x1="180.97" y1="410.7" x2="180.97" y2="430" stroke="#a8a8a8" stroke-width="0.6"/><line x1="184.31" y1="410.7" x2="184.31" y2="430" stroke="#a8a8a8" stroke-width="0.6"/><line x1="187.66" y1="410.7" x2="187.66" y2="430" stroke="#a8a8a8" stroke-width="0.6"/><line x1="191" y1="410.7" x2="191" y2="430" stroke="#a8a8a8" stroke-width="0.6"/><path d="M56.4 429.4 L66.2 429.4 L66.2 506 L111 506" fill="none" stroke="#e3173a" stroke-width="2.2" stroke-linejoin="miter" stroke-linecap="butt"/><path d="M28.8 457 L28.8 516 L111 516" fill="none" stroke="#17a9dc" stroke-width="2.2" stroke-linejoin="miter" stroke-linecap="butt"/><defs><linearGradient id="g50" gradientUnits="userSpaceOnUse" x1="111" y1="506" x2="100.4" y2="511"><stop offset="0" stop-color="#d83a40"/><stop offset="1" stop-color="#8a6a66"/></linearGradient></defs><polygon points="110.57,505.1 100.17,510.5 100.63,511.5 111.43,506.9" fill="url(#g50)"/><defs><linearGradient id="g51" gradientUnits="userSpaceOnUse" x1="100.4" y1="511" x2="111" y2="516"><stop offset="0" stop-color="#3a8a98"/><stop offset="1" stop-color="#16a4d4"/></linearGradient></defs><polygon points="100.17,511.5 110.57,516.9 111.43,515.1 100.63,510.5" fill="url(#g51)"/><path d="M157.6 413.4 L150.1 413.4 L150.1 478.8 L166.5 478.8" fill="none" stroke="#e3173a" stroke-width="2.2" stroke-linejoin="miter" stroke-linecap="butt"/><path d="M120.4 500 L140 500 L140 517.7 L192.1 517.7" fill="none" stroke="#e3173a" stroke-width="2.2" stroke-linejoin="miter" stroke-linecap="butt"/><defs><linearGradient id="g52" gradientUnits="userSpaceOnUse" x1="0" y1="518.8" x2="0" y2="502.6"><stop offset="0" stop-color="#e3173a"/><stop offset="0.5" stop-color="#8c7068"/><stop offset="1" stop-color="#17a9dc"/></linearGradient></defs><rect x="191" y="502.6" width="2.2" height="16.2" fill="url(#g52)"/><path d="M120.4 517 L130 517 L130 524.1 L200.8 524.1 L200.8 426.5 L194.6 426.5" fill="none" stroke="#17a9dc" stroke-width="2.2" stroke-linejoin="miter" stroke-linecap="butt"/><path d="M183.4 502.3 L196 502.3" fill="none" stroke="#17a9dc" stroke-width="2.2" stroke-linejoin="miter" stroke-linecap="butt"/><line x1="118.2" y1="485" x2="122.6" y2="485" stroke="#1a1a1a" stroke-width="1.5"/><circle cx="125" cy="485" r="2.55" fill="#ee7030" stroke="#c85a20" stroke-width="0.4"/><line x1="118.2" y1="511.6" x2="122.6" y2="511.6" stroke="#1a1a1a" stroke-width="1.5"/><circle cx="125" cy="511.6" r="2.55" fill="#ee7030" stroke="#c85a20" stroke-width="0.4"/><line x1="201.8" y1="491.1" x2="204.5" y2="491.1" stroke="#1a1a1a" stroke-width="1.5"/><circle cx="206.9" cy="491.1" r="2.55" fill="#ee7030" stroke="#c85a20" stroke-width="0.4"/><polygon points="195.6,499.8 195.6,504.4 200.5,502.8 200.5,501.4" fill="#151515" stroke="#151515" stroke-width="0.4" stroke-linejoin="round"/><polygon points="198.7,496.9 202.9,496.9 201.6,502.4 200,502.4" fill="#151515" stroke="#151515" stroke-width="0.4" stroke-linejoin="round"/><polygon points="198.6,507.7 203,507.7 200.8,502.9" fill="#fff" stroke="#aaaaaa" stroke-width="0.5" stroke-linejoin="round"/><circle cx="28.8" cy="485" r="5" fill="#fff" stroke="#9c9c9c" stroke-width="0.95"/><polygon points="28.8,481.16 25.05,487.05 32.55,487.05" fill="#1a1a1a"/><circle cx="150.1" cy="443.8" r="5" fill="#fff" stroke="#9c9c9c" stroke-width="0.95"/><polygon points="150.1,439.96 146.35,445.85 153.85,445.85" fill="#1a1a1a"/><defs><linearGradient id="g53" gradientUnits="userSpaceOnUse" x1="28.8" y1="458.1" x2="56.6" y2="429.7"><stop offset="0" stop-color="#0a9cba"/><stop offset="0.5" stop-color="#8e7a76"/><stop offset="1" stop-color="#dc3038"/></linearGradient></defs><polygon points="26.69,456.32 54.29,428.13 52.46,426.35 24.87,454.54" fill="#fff" stroke="#6a6a6a" stroke-width="0.65"/><polygon points="29.19,458.48 56.99,430.08 54.63,427.78 26.83,456.18" fill="url(#g53)" stroke="#2e2e2e" stroke-width="0.65"/><line x1="53.11" y1="427.55" x2="54.58" y2="426.04" stroke="#1a1a1a" stroke-width="2.3"/><circle cx="56.26" cy="424.33" r="2.45" fill="#ee7030" stroke="#c85a20" stroke-width="0.4"/>
<rect x="287" y="403" width="203" height="129.6" rx="16.5" ry="16.5" fill="#fff" stroke="#929292" stroke-width="1.45"/><path d="M294.1 415.5 L297.8 411.8 L297.8 424.9" fill="none" stroke="#a0a0a0" stroke-width="1.95" stroke-linejoin="miter"/><text x="301.8" y="424.9" class="num">0</text><defs><linearGradient id="g54" x1="0" y1="0" x2="0" y2="1"><stop offset="0" stop-color="#f5937a"/><stop offset="0.55" stop-color="#aca6a2"/><stop offset="1" stop-color="#38c0de"/></linearGradient></defs><path d="M370.4 475.5 C374.8 473.5 388 473.5 392.4 475.5 L392.4 520.9 C388 522.9 374.8 522.9 370.4 520.9 Z" fill="url(#g54)" stroke="rgba(40,40,40,0.6)" stroke-width="0.75"/><rect x="426.28" y="508.5" width="24.75" height="3.11" fill="#b2b2ae" stroke="#858585" stroke-width="0.7"/><rect x="443.22" y="467.87" width="8.88" height="4.03" fill="#c8c8c4" stroke="#858585" stroke-width="0.7"/><circle cx="445.89" cy="469.89" r="1.01" fill="none" stroke="#888" stroke-width="0.5"/><circle cx="449.44" cy="469.89" r="1.01" fill="none" stroke="#888" stroke-width="0.5"/><rect x="425.2" y="471.9" width="26.9" height="36.6" fill="#c4c4c0" stroke="#7e7e7e" stroke-width="0.8"/><rect x="427.84" y="476.55" width="4.17" height="4.94" rx="0.7" fill="#c8c8c4" stroke="#777" stroke-width="0.75"/><line x1="429.92" y1="477.55" x2="429.92" y2="480.49" stroke="#e4e4e0" stroke-width="0.5"/><rect x="427.84" y="499.64" width="4.17" height="4.94" rx="0.7" fill="#c8c8c4" stroke="#777" stroke-width="0.75"/><line x1="429.92" y1="500.64" x2="429.92" y2="503.58" stroke="#e4e4e0" stroke-width="0.5"/><rect x="445.51" y="476.55" width="4.17" height="4.94" rx="0.7" fill="#c8c8c4" stroke="#777" stroke-width="0.75"/><line x1="447.59" y1="477.55" x2="447.59" y2="480.49" stroke="#e4e4e0" stroke-width="0.5"/><rect x="445.51" y="499.64" width="4.17" height="4.94" rx="0.7" fill="#c8c8c4" stroke="#777" stroke-width="0.75"/><line x1="447.59" y1="500.64" x2="447.59" y2="503.58" stroke="#e4e4e0" stroke-width="0.5"/><rect x="428" y="409" width="34.4" height="23" rx="2" fill="#fff" stroke="#c4c4c4" stroke-width="0.9"/><rect x="430" y="410.8" width="30.4" height="19.4" rx="1" fill="none" stroke="#dcdcdc" stroke-width="0.5"/><line x1="431.6" y1="411.2" x2="431.6" y2="429.6" stroke="#a8a8a8" stroke-width="0.6"/><line x1="434.62" y1="411.2" x2="434.62" y2="429.6" stroke="#a8a8a8" stroke-width="0.6"/><line x1="437.64" y1="411.2" x2="437.64" y2="429.6" stroke="#a8a8a8" stroke-width="0.6"/><line x1="440.67" y1="411.2" x2="440.67" y2="429.6" stroke="#a8a8a8" stroke-width="0.6"/><line x1="443.69" y1="411.2" x2="443.69" y2="429.6" stroke="#a8a8a8" stroke-width="0.6"/><line x1="446.71" y1="411.2" x2="446.71" y2="429.6" stroke="#a8a8a8" stroke-width="0.6"/><line x1="449.73" y1="411.2" x2="449.73" y2="429.6" stroke="#a8a8a8" stroke-width="0.6"/><line x1="452.76" y1="411.2" x2="452.76" y2="429.6" stroke="#a8a8a8" stroke-width="0.6"/><line x1="455.78" y1="411.2" x2="455.78" y2="429.6" stroke="#a8a8a8" stroke-width="0.6"/><line x1="458.8" y1="411.2" x2="458.8" y2="429.6" stroke="#a8a8a8" stroke-width="0.6"/><path d="M331.4 429.4 L340.8 429.4 L340.8 504.4 L383 504.4" fill="none" stroke="#e3173a" stroke-width="2.2" stroke-linejoin="miter" stroke-linecap="butt"/><path d="M305.5 456 L305.5 515.6 L383 515.6" fill="none" stroke="#17a9dc" stroke-width="2.2" stroke-linejoin="miter" stroke-linecap="butt"/><defs><linearGradient id="g55" gradientUnits="userSpaceOnUse" x1="383" y1="504.4" x2="374" y2="510"><stop offset="0" stop-color="#d83a40"/><stop offset="1" stop-color="#8a6a66"/></linearGradient></defs><polygon points="382.47,503.55 373.71,509.53 374.29,510.47 383.53,505.25" fill="url(#g55)"/><defs><linearGradient id="g56" gradientUnits="userSpaceOnUse" x1="374" y1="510" x2="383" y2="515.6"><stop offset="0" stop-color="#3a8a98"/><stop offset="1" stop-color="#16a4d4"/></linearGradient></defs><polygon points="373.71,510.47 382.47,516.45 383.53,514.75 374.29,509.53" fill="url(#g56)"/><path d="M379.4 478.4 L429 478.4" fill="none" stroke="#e3173a" stroke-width="2.2" stroke-linejoin="miter" stroke-linecap="butt"/><path d="M379.4 489.6 L421 489.6 L421 502 L429 502" fill="none" stroke="#17a9dc" stroke-width="2.2" stroke-linejoin="miter" stroke-linecap="butt"/><defs><linearGradient id="g57" gradientUnits="userSpaceOnUse" x1="379.4" y1="478.4" x2="391" y2="484"><stop offset="0" stop-color="#d83a40"/><stop offset="1" stop-color="#8a6a66"/></linearGradient></defs><polygon points="378.97,479.3 390.76,484.5 391.24,483.5 379.83,477.5" fill="url(#g57)"/><defs><linearGradient id="g58" gradientUnits="userSpaceOnUse" x1="391" y1="484" x2="379.4" y2="489.6"><stop offset="0" stop-color="#3a8a98"/><stop offset="1" stop-color="#16a4d4"/></linearGradient></defs><polygon points="390.76,483.5 378.97,488.7 379.83,490.5 391.24,484.5" fill="url(#g58)"/><path d="M428 413 L421 413 L421 478.4" fill="none" stroke="#e3173a" stroke-width="2.2" stroke-linejoin="miter" stroke-linecap="butt"/><path d="M392.4 499 L411 499 L411 517 L460.6 517" fill="none" stroke="#e3173a" stroke-width="2.2" stroke-linejoin="miter" stroke-linecap="butt"/><defs><linearGradient id="g59" gradientUnits="userSpaceOnUse" x1="0" y1="518.1" x2="0" y2="502"><stop offset="0" stop-color="#e3173a"/><stop offset="0.5" stop-color="#8c7068"/><stop offset="1" stop-color="#17a9dc"/></linearGradient></defs><rect x="459.5" y="502" width="2.2" height="16.1" fill="url(#g59)"/><path d="M392.4 516 L401.6 516 L401.6 523 L469 523 L469 427 L462.4 427" fill="none" stroke="#17a9dc" stroke-width="2.2" stroke-linejoin="miter" stroke-linecap="butt"/><path d="M447 502 L464 502" fill="none" stroke="#17a9dc" stroke-width="2.2" stroke-linejoin="miter" stroke-linecap="butt"/><line x1="390.2" y1="484.4" x2="394.6" y2="484.4" stroke="#1a1a1a" stroke-width="1.5"/><circle cx="397" cy="484.4" r="2.55" fill="#ee7030" stroke="#c85a20" stroke-width="0.4"/><line x1="390.2" y1="511" x2="394.6" y2="511" stroke="#1a1a1a" stroke-width="1.5"/><circle cx="397" cy="511" r="2.55" fill="#ee7030" stroke="#c85a20" stroke-width="0.4"/><line x1="372.6" y1="489.6" x2="368.6" y2="489.6" stroke="#1a1a1a" stroke-width="1.5"/><circle cx="366.2" cy="489.6" r="2.55" fill="#ee7030" stroke="#c85a20" stroke-width="0.4"/><line x1="470.1" y1="492.9" x2="472.3" y2="492.9" stroke="#1a1a1a" stroke-width="1.5"/><circle cx="474.7" cy="492.9" r="2.55" fill="#ee7030" stroke="#c85a20" stroke-width="0.4"/><polygon points="463.9,499.5 463.9,504.1 468.8,502.5 468.8,501.1" fill="#151515" stroke="#151515" stroke-width="0.4" stroke-linejoin="round"/><polygon points="467,496.6 471.2,496.6 469.9,502.1 468.3,502.1" fill="#151515" stroke="#151515" stroke-width="0.4" stroke-linejoin="round"/><polygon points="466.9,507.4 471.3,507.4 469.1,502.6" fill="#fff" stroke="#aaaaaa" stroke-width="0.5" stroke-linejoin="round"/><circle cx="305.5" cy="485" r="4.9" fill="#fff" stroke="#9c9c9c" stroke-width="0.95"/><polygon points="305.5,481.24 301.82,487.01 309.18,487.01" fill="#1a1a1a"/><circle cx="408.1" cy="489.3" r="4.9" fill="#fff" stroke="#9c9c9c" stroke-width="0.95"/><polygon points="411.86,489.3 406.09,485.62 406.09,492.98" fill="#1a1a1a"/><circle cx="421" cy="441.6" r="4.9" fill="#fff" stroke="#9c9c9c" stroke-width="0.95"/><polygon points="421,437.84 417.32,443.61 424.68,443.61" fill="#1a1a1a"/><defs><linearGradient id="g60" gradientUnits="userSpaceOnUse" x1="305.5" y1="457.5" x2="331.6" y2="429.7"><stop offset="0" stop-color="#0a9cba"/><stop offset="0.5" stop-color="#8e7a76"/><stop offset="1" stop-color="#dc3038"/></linearGradient></defs><polygon points="303.36,455.76 329.25,428.18 327.39,426.44 301.5,454.02" fill="#fff" stroke="#6a6a6a" stroke-width="0.65"/><polygon points="305.9,457.88 332,430.08 329.6,427.82 303.5,455.62" fill="url(#g60)" stroke="#2e2e2e" stroke-width="0.65"/><line x1="328.07" y1="427.62" x2="329.51" y2="426.09" stroke="#1a1a1a" stroke-width="2.3"/><circle cx="331.15" cy="424.34" r="2.45" fill="#ee7030" stroke="#c85a20" stroke-width="0.4"/>
<rect x="559" y="403" width="203" height="129.6" rx="16.5" ry="16.5" fill="#fff" stroke="#929292" stroke-width="1.45"/><path d="M566.6 415.5 L570.3 411.8 L570.3 424.9" fill="none" stroke="#a0a0a0" stroke-width="1.95" stroke-linejoin="miter"/><path d="M577.6 415.5 L581.3 411.8 L581.3 424.9" fill="none" stroke="#a0a0a0" stroke-width="1.95" stroke-linejoin="miter"/><defs><linearGradient id="g61" x1="0" y1="0" x2="0" y2="1"><stop offset="0" stop-color="#f5937a"/><stop offset="0.55" stop-color="#aca6a2"/><stop offset="1" stop-color="#38c0de"/></linearGradient></defs><path d="M651.2 471.5 C656.66 469.5 673.04 469.5 678.5 471.5 L678.5 527.5 C673.04 529.5 656.66 529.5 651.2 527.5 Z" fill="url(#g61)" stroke="rgba(40,40,40,0.6)" stroke-width="0.75"/><defs><linearGradient id="g62" x1="0" y1="0" x2="0" y2="1"><stop offset="0" stop-color="#f5937a"/><stop offset="0.55" stop-color="#aca6a2"/><stop offset="1" stop-color="#38c0de"/></linearGradient></defs><path d="M716.6 471.5 C721.96 469.5 738.04 469.5 743.4 471.5 L743.4 527.5 C738.04 529.5 721.96 529.5 716.6 527.5 Z" fill="url(#g62)" stroke="rgba(40,40,40,0.6)" stroke-width="0.75"/><path d="M606.3 414.8 L617 414.8 L617 507.5 L668 507.5" fill="none" stroke="#e3173a" stroke-width="2.2" stroke-linejoin="miter" stroke-linecap="butt"/><path d="M623 482.2 L668 482.2" fill="none" stroke="#e3173a" stroke-width="2.2" stroke-linejoin="miter" stroke-linecap="butt"/><path d="M575.5 449 L575.5 520.4 L668 520.4" fill="none" stroke="#17a9dc" stroke-width="2.2" stroke-linejoin="miter" stroke-linecap="butt"/><path d="M668 495.6 L635.5 495.6 L635.5 520.4" fill="none" stroke="#17a9dc" stroke-width="2.2" stroke-linejoin="miter" stroke-linecap="butt"/><defs><linearGradient id="g63" gradientUnits="userSpaceOnUse" x1="668" y1="482.2" x2="655.2" y2="488.9"><stop offset="0" stop-color="#d83a40"/><stop offset="1" stop-color="#8a6a66"/></linearGradient></defs><polygon points="667.54,481.31 654.94,488.41 655.46,489.39 668.46,483.09" fill="url(#g63)"/><defs><linearGradient id="g64" gradientUnits="userSpaceOnUse" x1="655.2" y1="488.9" x2="668" y2="495.6"><stop offset="0" stop-color="#3a8a98"/><stop offset="1" stop-color="#16a4d4"/></linearGradient></defs><polygon points="654.94,489.39 667.54,496.49 668.46,494.71 655.46,488.41" fill="url(#g64)"/><defs><linearGradient id="g65" gradientUnits="userSpaceOnUse" x1="668" y1="507.5" x2="655.2" y2="513.95"><stop offset="0" stop-color="#d83a40"/><stop offset="1" stop-color="#8a6a66"/></linearGradient></defs><polygon points="667.55,506.61 654.95,513.46 655.45,514.44 668.45,508.39" fill="url(#g65)"/><defs><linearGradient id="g66" gradientUnits="userSpaceOnUse" x1="655.2" y1="513.95" x2="668" y2="520.4"><stop offset="0" stop-color="#3a8a98"/><stop offset="1" stop-color="#16a4d4"/></linearGradient></defs><polygon points="654.95,514.44 667.55,521.29 668.45,519.51 655.45,513.46" fill="url(#g66)"/><path d="M661.1 475.8 L712 475.8 L712 506 L733 506" fill="none" stroke="#e3173a" stroke-width="2.2" stroke-linejoin="miter" stroke-linecap="butt"/><path d="M661.1 489 L706 489 L706 519 L733 519" fill="none" stroke="#17a9dc" stroke-width="2.2" stroke-linejoin="miter" stroke-linecap="butt"/><defs><linearGradient id="g67" gradientUnits="userSpaceOnUse" x1="661.1" y1="475.8" x2="673.9" y2="482.4"><stop offset="0" stop-color="#d83a40"/><stop offset="1" stop-color="#8a6a66"/></linearGradient></defs><polygon points="660.64,476.69 673.65,482.89 674.15,481.91 661.56,474.91" fill="url(#g67)"/><defs><linearGradient id="g68" gradientUnits="userSpaceOnUse" x1="673.9" y1="482.4" x2="661.1" y2="489"><stop offset="0" stop-color="#3a8a98"/><stop offset="1" stop-color="#16a4d4"/></linearGradient></defs><polygon points="673.65,481.91 660.64,488.11 661.56,489.89 674.15,482.89" fill="url(#g68)"/><defs><linearGradient id="g69" gradientUnits="userSpaceOnUse" x1="733" y1="506" x2="720" y2="512.5"><stop offset="0" stop-color="#d83a40"/><stop offset="1" stop-color="#8a6a66"/></linearGradient></defs><polygon points="732.55,505.11 719.75,512.01 720.25,512.99 733.45,506.89" fill="url(#g69)"/><defs><linearGradient id="g70" gradientUnits="userSpaceOnUse" x1="720" y1="512.5" x2="733" y2="519"><stop offset="0" stop-color="#3a8a98"/><stop offset="1" stop-color="#16a4d4"/></linearGradient></defs><polygon points="719.75,512.99 732.55,519.89 733.45,518.11 720.25,512.01" fill="url(#g70)"/><line x1="653.4" y1="489.5" x2="649.1" y2="489.5" stroke="#1a1a1a" stroke-width="1.5"/><circle cx="646.7" cy="489.5" r="2.55" fill="#ee7030" stroke="#c85a20" stroke-width="0.4"/><line x1="676.3" y1="515.1" x2="680.7" y2="515.1" stroke="#1a1a1a" stroke-width="1.5"/><circle cx="683.1" cy="515.1" r="2.55" fill="#ee7030" stroke="#c85a20" stroke-width="0.4"/><line x1="741.2" y1="512.4" x2="745.6" y2="512.4" stroke="#1a1a1a" stroke-width="1.5"/><circle cx="748" cy="512.4" r="2.55" fill="#ee7030" stroke="#c85a20" stroke-width="0.4"/><polygon points="614.4,475.9 619.6,475.9 618,482.2 616,482.2" fill="#151515" stroke="#151515" stroke-width="0.5" stroke-linejoin="round"/><polygon points="614.4,488.5 619.6,488.5 618,482.2 616,482.2" fill="#151515" stroke="#151515" stroke-width="0.5" stroke-linejoin="round"/><polygon points="619.1,482.2 623,479.1 623,485.3" fill="#fff" stroke="#a8a8a8" stroke-width="0.6" stroke-linejoin="round"/><circle cx="575.5" cy="483.6" r="5.6" fill="#fff" stroke="#9c9c9c" stroke-width="0.95"/><polygon points="575.5,479.3 571.3,485.9 579.7,485.9" fill="#1a1a1a"/><circle cx="695.4" cy="489" r="5.6" fill="#fff" stroke="#9c9c9c" stroke-width="0.95"/><polygon points="691.1,489 697.7,484.8 697.7,493.2" fill="#1a1a1a"/><defs><linearGradient id="g71" gradientUnits="userSpaceOnUse" x1="575.5" y1="450.1" x2="606.5" y2="415.8"><stop offset="0" stop-color="#0a9cba"/><stop offset="0.5" stop-color="#8e7a76"/><stop offset="1" stop-color="#dc3038"/></linearGradient></defs><polygon points="573.33,448.4 604.12,414.33 602.23,412.62 571.43,446.69" fill="#fff" stroke="#6a6a6a" stroke-width="0.65"/><polygon points="575.91,450.47 606.91,416.17 604.46,413.96 573.46,448.26" fill="url(#g71)" stroke="#2e2e2e" stroke-width="0.65"/><line x1="602.93" y1="413.79" x2="604.34" y2="412.23" stroke="#1a1a1a" stroke-width="2.3"/><circle cx="605.95" cy="410.45" r="2.45" fill="#ee7030" stroke="#c85a20" stroke-width="0.4"/>
<rect x="831" y="403" width="203" height="129.6" rx="16.5" ry="16.5" fill="#fff" stroke="#929292" stroke-width="1.45"/><path d="M839.3 415.5 L843 411.8 L843 424.9" fill="none" stroke="#a0a0a0" stroke-width="1.95" stroke-linejoin="miter"/><text x="847" y="424.9" class="num">2</text><defs><linearGradient id="g72" x1="0" y1="0" x2="0" y2="1"><stop offset="0" stop-color="#f5937a"/><stop offset="0.55" stop-color="#aca6a2"/><stop offset="1" stop-color="#38c0de"/></linearGradient></defs><path d="M926.6 474.5 C932.08 472.5 948.52 472.5 954 474.5 L954 526.5 C948.52 528.5 932.08 528.5 926.6 526.5 Z" fill="url(#g72)" stroke="rgba(40,40,40,0.6)" stroke-width="0.75"/><rect x="991.32" y="513" width="30.36" height="3.66" fill="#b2b2ae" stroke="#858585" stroke-width="0.7"/><rect x="1012.11" y="465.27" width="10.89" height="4.73" fill="#c8c8c4" stroke="#858585" stroke-width="0.7"/><circle cx="1015.38" cy="467.63" r="1.18" fill="none" stroke="#888" stroke-width="0.5"/><circle cx="1019.73" cy="467.63" r="1.18" fill="none" stroke="#888" stroke-width="0.5"/><rect x="990" y="470" width="33" height="43" fill="#c4c4c0" stroke="#7e7e7e" stroke-width="0.8"/><rect x="993.23" y="475.46" width="5.12" height="5.81" rx="0.7" fill="#c8c8c4" stroke="#777" stroke-width="0.75"/><line x1="995.79" y1="476.46" x2="995.79" y2="480.27" stroke="#e4e4e0" stroke-width="0.5"/><rect x="993.23" y="502.59" width="5.12" height="5.81" rx="0.7" fill="#c8c8c4" stroke="#777" stroke-width="0.75"/><line x1="995.79" y1="503.59" x2="995.79" y2="507.4" stroke="#e4e4e0" stroke-width="0.5"/><rect x="1014.91" y="475.46" width="5.12" height="5.81" rx="0.7" fill="#c8c8c4" stroke="#777" stroke-width="0.75"/><line x1="1017.47" y1="476.46" x2="1017.47" y2="480.27" stroke="#e4e4e0" stroke-width="0.5"/><rect x="1014.91" y="502.59" width="5.12" height="5.81" rx="0.7" fill="#c8c8c4" stroke="#777" stroke-width="0.75"/><line x1="1017.47" y1="503.59" x2="1017.47" y2="507.4" stroke="#e4e4e0" stroke-width="0.5"/><path d="M879.6 421.1 L890.6 421.1 L890.6 507.6 L942 507.6" fill="none" stroke="#e3173a" stroke-width="2.2" stroke-linejoin="miter" stroke-linecap="butt"/><path d="M897 484.4 L942 484.4" fill="none" stroke="#e3173a" stroke-width="2.2" stroke-linejoin="miter" stroke-linecap="butt"/><path d="M847.5 452 L847.5 520 L942 520" fill="none" stroke="#17a9dc" stroke-width="2.2" stroke-linejoin="miter" stroke-linecap="butt"/><path d="M942 496 L909 496 L909 520" fill="none" stroke="#17a9dc" stroke-width="2.2" stroke-linejoin="miter" stroke-linecap="butt"/><defs><linearGradient id="g73" gradientUnits="userSpaceOnUse" x1="942" y1="484.4" x2="930" y2="490.2"><stop offset="0" stop-color="#d83a40"/><stop offset="1" stop-color="#8a6a66"/></linearGradient></defs><polygon points="941.56,483.5 929.76,489.7 930.24,490.7 942.44,485.3" fill="url(#g73)"/><defs><linearGradient id="g74" gradientUnits="userSpaceOnUse" x1="930" y1="490.2" x2="942" y2="496"><stop offset="0" stop-color="#3a8a98"/><stop offset="1" stop-color="#16a4d4"/></linearGradient></defs><polygon points="929.76,490.7 941.56,496.9 942.44,495.1 930.24,489.7" fill="url(#g74)"/><defs><linearGradient id="g75" gradientUnits="userSpaceOnUse" x1="942" y1="507.6" x2="930" y2="513.8"><stop offset="0" stop-color="#d83a40"/><stop offset="1" stop-color="#8a6a66"/></linearGradient></defs><polygon points="941.54,506.71 929.75,513.31 930.25,514.29 942.46,508.49" fill="url(#g75)"/><defs><linearGradient id="g76" gradientUnits="userSpaceOnUse" x1="930" y1="513.8" x2="942" y2="520"><stop offset="0" stop-color="#3a8a98"/><stop offset="1" stop-color="#16a4d4"/></linearGradient></defs><polygon points="929.75,514.29 941.54,520.89 942.46,519.11 930.25,513.31" fill="url(#g76)"/><path d="M937.4 478 L995.5 478" fill="none" stroke="#e3173a" stroke-width="2.2" stroke-linejoin="miter" stroke-linecap="butt"/><path d="M937.4 490.4 L986 490.4 L986 505 L995.5 505" fill="none" stroke="#17a9dc" stroke-width="2.2" stroke-linejoin="miter" stroke-linecap="butt"/><defs><linearGradient id="g77" gradientUnits="userSpaceOnUse" x1="937.4" y1="478" x2="949.4" y2="484.2"><stop offset="0" stop-color="#d83a40"/><stop offset="1" stop-color="#8a6a66"/></linearGradient></defs><polygon points="936.94,478.89 949.15,484.69 949.65,483.71 937.86,477.11" fill="url(#g77)"/><defs><linearGradient id="g78" gradientUnits="userSpaceOnUse" x1="949.4" y1="484.2" x2="937.4" y2="490.4"><stop offset="0" stop-color="#3a8a98"/><stop offset="1" stop-color="#16a4d4"/></linearGradient></defs><polygon points="949.15,483.71 936.94,489.51 937.86,491.29 949.65,484.69" fill="url(#g78)"/><line x1="928.8" y1="490.4" x2="923.4" y2="490.4" stroke="#1a1a1a" stroke-width="1.5"/><circle cx="921" cy="490.4" r="2.55" fill="#ee7030" stroke="#c85a20" stroke-width="0.4"/><line x1="951.8" y1="514.4" x2="956.2" y2="514.4" stroke="#1a1a1a" stroke-width="1.5"/><circle cx="958.6" cy="514.4" r="2.55" fill="#ee7030" stroke="#c85a20" stroke-width="0.4"/><polygon points="888,477.9 893.2,477.9 891.6,484.2 889.6,484.2" fill="#151515" stroke="#151515" stroke-width="0.5" stroke-linejoin="round"/><polygon points="888,490.5 893.2,490.5 891.6,484.2 889.6,484.2" fill="#151515" stroke="#151515" stroke-width="0.5" stroke-linejoin="round"/><polygon points="892.7,484.2 896.6,481.1 896.6,487.3" fill="#fff" stroke="#a8a8a8" stroke-width="0.6" stroke-linejoin="round"/><circle cx="847.5" cy="482.4" r="5.6" fill="#fff" stroke="#9c9c9c" stroke-width="0.95"/><polygon points="847.5,478.1 843.3,484.7 851.7,484.7" fill="#1a1a1a"/><circle cx="971.6" cy="490.4" r="5.6" fill="#fff" stroke="#9c9c9c" stroke-width="0.95"/><polygon points="975.9,490.4 969.3,486.2 969.3,494.6" fill="#1a1a1a"/><defs><linearGradient id="g79" gradientUnits="userSpaceOnUse" x1="847.5" y1="453.8" x2="879.8" y2="421.4"><stop offset="0" stop-color="#0a9cba"/><stop offset="0.5" stop-color="#8e7a76"/><stop offset="1" stop-color="#dc3038"/></linearGradient></defs><polygon points="845.41,452 877.5,419.81 875.69,418.01 843.61,450.2" fill="#fff" stroke="#6a6a6a" stroke-width="0.65"/><polygon points="847.89,454.19 880.19,421.79 877.85,419.46 845.55,451.86" fill="url(#g79)" stroke="#2e2e2e" stroke-width="0.65"/><line x1="876.33" y1="419.21" x2="877.81" y2="417.73" stroke="#1a1a1a" stroke-width="2.3"/><circle cx="879.51" cy="416.03" r="2.45" fill="#ee7030" stroke="#c85a20" stroke-width="0.4"/>
<rect x="14.6" y="592" width="203" height="129.6" rx="16.5" ry="16.5" fill="#fff" stroke="#929292" stroke-width="1.45"/><path d="M23.9 605.5 L27.6 601.8 L27.6 614.9" fill="none" stroke="#a0a0a0" stroke-width="1.95" stroke-linejoin="miter"/><text x="31.6" y="614.9" class="num">3</text><defs><linearGradient id="g80" x1="0" y1="0" x2="0" y2="1"><stop offset="0" stop-color="#f5937a"/><stop offset="0.55" stop-color="#aca6a2"/><stop offset="1" stop-color="#38c0de"/></linearGradient></defs><path d="M108.4 662.5 C113.92 660.5 130.48 660.5 136 662.5 L136 713.5 C130.48 715.5 113.92 715.5 108.4 713.5 Z" fill="url(#g80)" stroke="rgba(40,40,40,0.6)" stroke-width="0.75"/><path d="M203.6 671.5 L205.6 673 L206.6 686.6 L203.6 686.6 Z" fill="#e0e0dc" stroke="#9a9a9a" stroke-width="0.6"/><path d="M203.6 693 L205.6 694.5 L206.6 708.5 L203.6 708.5 Z" fill="#e0e0dc" stroke="#9a9a9a" stroke-width="0.6"/><rect x="176" y="662" width="27.6" height="51" rx="0.8" fill="#c2c2be" stroke="#888" stroke-width="0.8"/><line x1="189.8" y1="664.2" x2="189.8" y2="659.5" stroke="#1a1a1a" stroke-width="1.6"/><circle cx="189.8" cy="657.2" r="2.5" fill="#ee7030" stroke="#c85a20" stroke-width="0.4"/><path d="M62.6 609.4 L73.6 609.4 L73.6 695 L125 695" fill="none" stroke="#e3173a" stroke-width="2.2" stroke-linejoin="miter" stroke-linecap="butt"/><path d="M80 672 L125 672" fill="none" stroke="#e3173a" stroke-width="2.2" stroke-linejoin="miter" stroke-linecap="butt"/><path d="M30.8 640 L30.8 707.6 L125 707.6" fill="none" stroke="#17a9dc" stroke-width="2.2" stroke-linejoin="miter" stroke-linecap="butt"/><path d="M125 684 L92 684 L92 707.6" fill="none" stroke="#17a9dc" stroke-width="2.2" stroke-linejoin="miter" stroke-linecap="butt"/><defs><linearGradient id="g81" gradientUnits="userSpaceOnUse" x1="125" y1="672" x2="113" y2="678"><stop offset="0" stop-color="#d83a40"/><stop offset="1" stop-color="#8a6a66"/></linearGradient></defs><polygon points="124.55,671.11 112.75,677.51 113.25,678.49 125.45,672.89" fill="url(#g81)"/><defs><linearGradient id="g82" gradientUnits="userSpaceOnUse" x1="113" y1="678" x2="125" y2="684"><stop offset="0" stop-color="#3a8a98"/><stop offset="1" stop-color="#16a4d4"/></linearGradient></defs><polygon points="112.75,678.49 124.55,684.89 125.45,683.11 113.25,677.51" fill="url(#g82)"/><defs><linearGradient id="g83" gradientUnits="userSpaceOnUse" x1="125" y1="695" x2="113" y2="701.3"><stop offset="0" stop-color="#d83a40"/><stop offset="1" stop-color="#8a6a66"/></linearGradient></defs><polygon points="124.54,694.11 112.74,700.81 113.26,701.79 125.46,695.89" fill="url(#g83)"/><defs><linearGradient id="g84" gradientUnits="userSpaceOnUse" x1="113" y1="701.3" x2="125" y2="707.6"><stop offset="0" stop-color="#3a8a98"/><stop offset="1" stop-color="#16a4d4"/></linearGradient></defs><polygon points="112.74,701.79 124.54,708.49 125.46,706.71 113.26,700.81" fill="url(#g84)"/><path d="M118.4 665 L176 665" fill="none" stroke="#e3173a" stroke-width="2.2" stroke-linejoin="miter" stroke-linecap="butt"/><path d="M118.4 678 L176 678" fill="none" stroke="#17a9dc" stroke-width="2.2" stroke-linejoin="miter" stroke-linecap="butt"/><defs><linearGradient id="g85" gradientUnits="userSpaceOnUse" x1="118.4" y1="665" x2="131" y2="671.5"><stop offset="0" stop-color="#d83a40"/><stop offset="1" stop-color="#8a6a66"/></linearGradient></defs><polygon points="117.94,665.89 130.75,671.99 131.25,671.01 118.86,664.11" fill="url(#g85)"/><defs><linearGradient id="g86" gradientUnits="userSpaceOnUse" x1="131" y1="671.5" x2="118.4" y2="678"><stop offset="0" stop-color="#3a8a98"/><stop offset="1" stop-color="#16a4d4"/></linearGradient></defs><polygon points="130.75,671.01 117.94,677.11 118.86,678.89 131.25,671.99" fill="url(#g86)"/><line x1="108.6" y1="678" x2="104.4" y2="678" stroke="#1a1a1a" stroke-width="1.5"/><circle cx="102" cy="678" r="2.55" fill="#ee7030" stroke="#c85a20" stroke-width="0.4"/><line x1="134.5" y1="701.8" x2="138.2" y2="701.8" stroke="#1a1a1a" stroke-width="1.5"/><circle cx="140.6" cy="701.8" r="2.55" fill="#ee7030" stroke="#c85a20" stroke-width="0.4"/><polygon points="71,665.7 76.2,665.7 74.6,672 72.6,672" fill="#151515" stroke="#151515" stroke-width="0.5" stroke-linejoin="round"/><polygon points="71,678.3 76.2,678.3 74.6,672 72.6,672" fill="#151515" stroke="#151515" stroke-width="0.5" stroke-linejoin="round"/><polygon points="75.7,672 79.6,668.9 79.6,675.1" fill="#fff" stroke="#a8a8a8" stroke-width="0.6" stroke-linejoin="round"/><circle cx="30.8" cy="673" r="5.6" fill="#fff" stroke="#9c9c9c" stroke-width="0.95"/><polygon points="30.8,668.7 26.6,675.3 35,675.3" fill="#1a1a1a"/><circle cx="153.6" cy="678" r="5.6" fill="#fff" stroke="#9c9c9c" stroke-width="0.95"/><polygon points="157.9,678 151.3,673.8 151.3,682.2" fill="#1a1a1a"/><defs><linearGradient id="g87" gradientUnits="userSpaceOnUse" x1="30.8" y1="641.8" x2="62.8" y2="609.8"><stop offset="0" stop-color="#0a9cba"/><stop offset="0.5" stop-color="#8e7a76"/><stop offset="1" stop-color="#dc3038"/></linearGradient></defs><polygon points="28.71,640 60.5,608.21 58.7,606.41 26.91,638.19" fill="#fff" stroke="#6a6a6a" stroke-width="0.65"/><polygon points="31.19,642.19 63.19,610.19 60.86,607.86 28.86,639.86" fill="url(#g87)" stroke="#2e2e2e" stroke-width="0.65"/><line x1="59.34" y1="607.61" x2="60.82" y2="606.12" stroke="#1a1a1a" stroke-width="2.3"/><circle cx="62.52" cy="604.43" r="2.45" fill="#ee7030" stroke="#c85a20" stroke-width="0.4"/>
<rect x="287" y="592" width="203" height="129.6" rx="16.5" ry="16.5" fill="#fff" stroke="#929292" stroke-width="1.45"/><path d="M295.6 605.5 L299.3 601.8 L299.3 614.9" fill="none" stroke="#a0a0a0" stroke-width="1.95" stroke-linejoin="miter"/><text x="303.3" y="614.9" class="num">4</text><defs><linearGradient id="g88" x1="0" y1="0" x2="0" y2="1"><stop offset="0" stop-color="#f5937a"/><stop offset="0.55" stop-color="#aca6a2"/><stop offset="1" stop-color="#38c0de"/></linearGradient></defs><path d="M369 666.5 C373.68 664.5 387.72 664.5 392.4 666.5 L392.4 710.1 C387.72 712.1 373.68 712.1 369 710.1 Z" fill="url(#g88)" stroke="rgba(40,40,40,0.6)" stroke-width="0.75"/><rect x="432.5" y="698.2" width="25.3" height="3.16" fill="#b2b2ae" stroke="#858585" stroke-width="0.7"/><rect x="449.82" y="656.91" width="9.08" height="4.09" fill="#c8c8c4" stroke="#858585" stroke-width="0.7"/><circle cx="452.55" cy="658.95" r="1.02" fill="none" stroke="#888" stroke-width="0.5"/><circle cx="456.18" cy="658.95" r="1.02" fill="none" stroke="#888" stroke-width="0.5"/><rect x="431.4" y="661" width="27.5" height="37.2" fill="#c4c4c0" stroke="#7e7e7e" stroke-width="0.8"/><rect x="434.09" y="665.72" width="4.26" height="5.02" rx="0.7" fill="#c8c8c4" stroke="#777" stroke-width="0.75"/><line x1="436.23" y1="666.72" x2="436.23" y2="669.75" stroke="#e4e4e0" stroke-width="0.5"/><rect x="434.09" y="689.2" width="4.26" height="5.02" rx="0.7" fill="#c8c8c4" stroke="#777" stroke-width="0.75"/><line x1="436.23" y1="690.2" x2="436.23" y2="693.22" stroke="#e4e4e0" stroke-width="0.5"/><rect x="452.16" y="665.72" width="4.26" height="5.02" rx="0.7" fill="#c8c8c4" stroke="#777" stroke-width="0.75"/><line x1="454.29" y1="666.72" x2="454.29" y2="669.75" stroke="#e4e4e0" stroke-width="0.5"/><rect x="452.16" y="689.2" width="4.26" height="5.02" rx="0.7" fill="#c8c8c4" stroke="#777" stroke-width="0.75"/><line x1="454.29" y1="690.2" x2="454.29" y2="693.22" stroke="#e4e4e0" stroke-width="0.5"/><rect x="428.4" y="601" width="35.6" height="22" rx="2" fill="#fff" stroke="#c4c4c4" stroke-width="0.9"/><rect x="430.4" y="602.8" width="31.6" height="18.4" rx="1" fill="none" stroke="#dcdcdc" stroke-width="0.5"/><line x1="432" y1="603.2" x2="432" y2="620.6" stroke="#a8a8a8" stroke-width="0.6"/><line x1="435.16" y1="603.2" x2="435.16" y2="620.6" stroke="#a8a8a8" stroke-width="0.6"/><line x1="438.31" y1="603.2" x2="438.31" y2="620.6" stroke="#a8a8a8" stroke-width="0.6"/><line x1="441.47" y1="603.2" x2="441.47" y2="620.6" stroke="#a8a8a8" stroke-width="0.6"/><line x1="444.62" y1="603.2" x2="444.62" y2="620.6" stroke="#a8a8a8" stroke-width="0.6"/><line x1="447.78" y1="603.2" x2="447.78" y2="620.6" stroke="#a8a8a8" stroke-width="0.6"/><line x1="450.93" y1="603.2" x2="450.93" y2="620.6" stroke="#a8a8a8" stroke-width="0.6"/><line x1="454.09" y1="603.2" x2="454.09" y2="620.6" stroke="#a8a8a8" stroke-width="0.6"/><line x1="457.24" y1="603.2" x2="457.24" y2="620.6" stroke="#a8a8a8" stroke-width="0.6"/><line x1="460.4" y1="603.2" x2="460.4" y2="620.6" stroke="#a8a8a8" stroke-width="0.6"/><path d="M329 621.1 L338.7 621.1 L338.7 694 L383 694" fill="none" stroke="#e3173a" stroke-width="2.2" stroke-linejoin="miter" stroke-linecap="butt"/><path d="M344.2 674.4 L383 674.4" fill="none" stroke="#e3173a" stroke-width="2.2" stroke-linejoin="miter" stroke-linecap="butt"/><path d="M302.5 648 L302.5 704.4 L383 704.4" fill="none" stroke="#17a9dc" stroke-width="2.2" stroke-linejoin="miter" stroke-linecap="butt"/><path d="M383 684.4 L354.4 684.4 L354.4 704.4" fill="none" stroke="#17a9dc" stroke-width="2.2" stroke-linejoin="miter" stroke-linecap="butt"/><defs><linearGradient id="g89" gradientUnits="userSpaceOnUse" x1="383" y1="674.4" x2="372.4" y2="679.4"><stop offset="0" stop-color="#d83a40"/><stop offset="1" stop-color="#8a6a66"/></linearGradient></defs><polygon points="382.57,673.5 372.17,678.9 372.63,679.9 383.43,675.3" fill="url(#g89)"/><defs><linearGradient id="g90" gradientUnits="userSpaceOnUse" x1="372.4" y1="679.4" x2="383" y2="684.4"><stop offset="0" stop-color="#3a8a98"/><stop offset="1" stop-color="#16a4d4"/></linearGradient></defs><polygon points="372.17,679.9 382.57,685.3 383.43,683.5 372.63,678.9" fill="url(#g90)"/><defs><linearGradient id="g91" gradientUnits="userSpaceOnUse" x1="383" y1="694" x2="372.4" y2="699.2"><stop offset="0" stop-color="#d83a40"/><stop offset="1" stop-color="#8a6a66"/></linearGradient></defs><polygon points="382.56,693.1 372.16,698.71 372.64,699.69 383.44,694.9" fill="url(#g91)"/><defs><linearGradient id="g92" gradientUnits="userSpaceOnUse" x1="372.4" y1="699.2" x2="383" y2="704.4"><stop offset="0" stop-color="#3a8a98"/><stop offset="1" stop-color="#16a4d4"/></linearGradient></defs><polygon points="372.16,699.69 382.56,705.3 383.44,703.5 372.64,698.71" fill="url(#g92)"/><path d="M428.6 605.6 L421 605.6 L421 668 L435 668" fill="none" stroke="#e3173a" stroke-width="2.2" stroke-linejoin="miter" stroke-linecap="butt"/><path d="M392.4 689 L411 689 L411 706 L462 706" fill="none" stroke="#e3173a" stroke-width="2.2" stroke-linejoin="miter" stroke-linecap="butt"/><defs><linearGradient id="g93" gradientUnits="userSpaceOnUse" x1="0" y1="707.1" x2="0" y2="691"><stop offset="0" stop-color="#e3173a"/><stop offset="0.5" stop-color="#8c7068"/><stop offset="1" stop-color="#17a9dc"/></linearGradient></defs><rect x="460.9" y="691" width="2.2" height="16.1" fill="url(#g93)"/><path d="M392.4 706 L401 706 L401 712 L471 712 L471 618.4 L464 618.4" fill="none" stroke="#17a9dc" stroke-width="2.2" stroke-linejoin="miter" stroke-linecap="butt"/><path d="M454 691 L467 691" fill="none" stroke="#17a9dc" stroke-width="2.2" stroke-linejoin="miter" stroke-linecap="butt"/><line x1="371.2" y1="679.6" x2="366.4" y2="679.6" stroke="#1a1a1a" stroke-width="1.5"/><circle cx="364" cy="679.6" r="2.55" fill="#ee7030" stroke="#c85a20" stroke-width="0.4"/><line x1="390.2" y1="700" x2="394.6" y2="700" stroke="#1a1a1a" stroke-width="1.5"/><circle cx="397" cy="700" r="2.55" fill="#ee7030" stroke="#c85a20" stroke-width="0.4"/><line x1="472" y1="681.6" x2="474.2" y2="681.6" stroke="#1a1a1a" stroke-width="1.5"/><circle cx="476.6" cy="681.6" r="2.55" fill="#ee7030" stroke="#c85a20" stroke-width="0.4"/><polygon points="465.8,688.3 465.8,692.9 470.7,691.3 470.7,689.9" fill="#151515" stroke="#151515" stroke-width="0.4" stroke-linejoin="round"/><polygon points="468.9,685.4 473.1,685.4 471.8,690.9 470.2,690.9" fill="#151515" stroke="#151515" stroke-width="0.4" stroke-linejoin="round"/><polygon points="468.8,696.2 473.2,696.2 471,691.4" fill="#fff" stroke="#aaaaaa" stroke-width="0.5" stroke-linejoin="round"/><polygon points="336.1,667.9 341.3,667.9 339.7,674.2 337.7,674.2" fill="#151515" stroke="#151515" stroke-width="0.5" stroke-linejoin="round"/><polygon points="336.1,680.5 341.3,680.5 339.7,674.2 337.7,674.2" fill="#151515" stroke="#151515" stroke-width="0.5" stroke-linejoin="round"/><polygon points="340.8,674.2 344.7,671.1 344.7,677.3" fill="#fff" stroke="#a8a8a8" stroke-width="0.6" stroke-linejoin="round"/><circle cx="302.5" cy="674.4" r="5.6" fill="#fff" stroke="#9c9c9c" stroke-width="0.95"/><polygon points="302.5,670.1 298.3,676.7 306.7,676.7" fill="#1a1a1a"/><circle cx="421" cy="634.4" r="5.6" fill="#fff" stroke="#9c9c9c" stroke-width="0.95"/><polygon points="421,630.1 416.8,636.7 425.2,636.7" fill="#1a1a1a"/><defs><linearGradient id="g94" gradientUnits="userSpaceOnUse" x1="302.5" y1="648.9" x2="329.3" y2="621.8"><stop offset="0" stop-color="#0a9cba"/><stop offset="0.5" stop-color="#8e7a76"/><stop offset="1" stop-color="#dc3038"/></linearGradient></defs><polygon points="300.4,647.11 326.99,620.22 325.18,618.43 298.59,645.32" fill="#fff" stroke="#6a6a6a" stroke-width="0.65"/><polygon points="302.89,649.29 329.69,622.19 327.34,619.87 300.54,646.97" fill="url(#g94)" stroke="#2e2e2e" stroke-width="0.65"/><line x1="325.82" y1="619.63" x2="327.3" y2="618.13" stroke="#1a1a1a" stroke-width="2.3"/><circle cx="328.99" cy="616.43" r="2.45" fill="#ee7030" stroke="#c85a20" stroke-width="0.4"/>
<rect x="559" y="592" width="203" height="129.6" rx="16.5" ry="16.5" fill="#fff" stroke="#929292" stroke-width="1.45"/><path d="M569.2 605.5 L572.9 601.8 L572.9 614.9" fill="none" stroke="#a0a0a0" stroke-width="1.95" stroke-linejoin="miter"/><text x="576.9" y="614.9" class="num">5</text><defs><linearGradient id="g95" x1="0" y1="0" x2="0" y2="1"><stop offset="0" stop-color="#f5937a"/><stop offset="0.55" stop-color="#aca6a2"/><stop offset="1" stop-color="#38c0de"/></linearGradient></defs><path d="M639.4 665.1 C644.2 663.1 658.6 663.1 663.4 665.1 L663.4 710.1 C658.6 712.1 644.2 712.1 639.4 710.1 Z" fill="url(#g95)" stroke="rgba(40,40,40,0.6)" stroke-width="0.75"/><rect x="706.52" y="697.6" width="25.76" height="3.23" fill="#b2b2ae" stroke="#858585" stroke-width="0.7"/><rect x="724.16" y="655.42" width="9.24" height="4.18" fill="#c8c8c4" stroke="#858585" stroke-width="0.7"/><circle cx="726.93" cy="657.51" r="1.04" fill="none" stroke="#888" stroke-width="0.5"/><circle cx="730.63" cy="657.51" r="1.04" fill="none" stroke="#888" stroke-width="0.5"/><rect x="705.4" y="659.6" width="28" height="38" fill="#c4c4c0" stroke="#7e7e7e" stroke-width="0.8"/><rect x="708.14" y="664.43" width="4.34" height="5.13" rx="0.7" fill="#c8c8c4" stroke="#777" stroke-width="0.75"/><line x1="710.31" y1="665.43" x2="710.31" y2="668.56" stroke="#e4e4e0" stroke-width="0.5"/><rect x="708.14" y="688.4" width="4.34" height="5.13" rx="0.7" fill="#c8c8c4" stroke="#777" stroke-width="0.75"/><line x1="710.31" y1="689.4" x2="710.31" y2="692.53" stroke="#e4e4e0" stroke-width="0.5"/><rect x="726.54" y="664.43" width="4.34" height="5.13" rx="0.7" fill="#c8c8c4" stroke="#777" stroke-width="0.75"/><line x1="728.71" y1="665.43" x2="728.71" y2="668.56" stroke="#e4e4e0" stroke-width="0.5"/><rect x="726.54" y="688.4" width="4.34" height="5.13" rx="0.7" fill="#c8c8c4" stroke="#777" stroke-width="0.75"/><line x1="728.71" y1="689.4" x2="728.71" y2="692.53" stroke="#e4e4e0" stroke-width="0.5"/><rect x="701.4" y="597" width="36.6" height="23" rx="2" fill="#fff" stroke="#c4c4c4" stroke-width="0.9"/><rect x="703.4" y="598.8" width="32.6" height="19.4" rx="1" fill="none" stroke="#dcdcdc" stroke-width="0.5"/><line x1="705" y1="599.2" x2="705" y2="617.6" stroke="#a8a8a8" stroke-width="0.6"/><line x1="708.27" y1="599.2" x2="708.27" y2="617.6" stroke="#a8a8a8" stroke-width="0.6"/><line x1="711.53" y1="599.2" x2="711.53" y2="617.6" stroke="#a8a8a8" stroke-width="0.6"/><line x1="714.8" y1="599.2" x2="714.8" y2="617.6" stroke="#a8a8a8" stroke-width="0.6"/><line x1="718.07" y1="599.2" x2="718.07" y2="617.6" stroke="#a8a8a8" stroke-width="0.6"/><line x1="721.33" y1="599.2" x2="721.33" y2="617.6" stroke="#a8a8a8" stroke-width="0.6"/><line x1="724.6" y1="599.2" x2="724.6" y2="617.6" stroke="#a8a8a8" stroke-width="0.6"/><line x1="727.87" y1="599.2" x2="727.87" y2="617.6" stroke="#a8a8a8" stroke-width="0.6"/><line x1="731.13" y1="599.2" x2="731.13" y2="617.6" stroke="#a8a8a8" stroke-width="0.6"/><line x1="734.4" y1="599.2" x2="734.4" y2="617.6" stroke="#a8a8a8" stroke-width="0.6"/><path d="M597.8 617.1 L608.1 617.1 L608.1 693.6 L653 693.6" fill="none" stroke="#e3173a" stroke-width="2.2" stroke-linejoin="miter" stroke-linecap="butt"/><path d="M613 673 L653 673" fill="none" stroke="#e3173a" stroke-width="2.2" stroke-linejoin="miter" stroke-linecap="butt"/><path d="M570.2 644 L570.2 704 L653 704" fill="none" stroke="#17a9dc" stroke-width="2.2" stroke-linejoin="miter" stroke-linecap="butt"/><path d="M653 683.6 L624 683.6 L624 704" fill="none" stroke="#17a9dc" stroke-width="2.2" stroke-linejoin="miter" stroke-linecap="butt"/><defs><linearGradient id="g96" gradientUnits="userSpaceOnUse" x1="653" y1="673" x2="642.6" y2="678.3"><stop offset="0" stop-color="#d83a40"/><stop offset="1" stop-color="#8a6a66"/></linearGradient></defs><polygon points="652.55,672.11 642.35,677.81 642.85,678.79 653.45,673.89" fill="url(#g96)"/><defs><linearGradient id="g97" gradientUnits="userSpaceOnUse" x1="642.6" y1="678.3" x2="653" y2="683.6"><stop offset="0" stop-color="#3a8a98"/><stop offset="1" stop-color="#16a4d4"/></linearGradient></defs><polygon points="642.35,678.79 652.55,684.49 653.45,682.71 642.85,677.81" fill="url(#g97)"/><defs><linearGradient id="g98" gradientUnits="userSpaceOnUse" x1="653" y1="693.6" x2="642.6" y2="698.8"><stop offset="0" stop-color="#d83a40"/><stop offset="1" stop-color="#8a6a66"/></linearGradient></defs><polygon points="652.55,692.71 642.35,698.31 642.85,699.29 653.45,694.49" fill="url(#g98)"/><defs><linearGradient id="g99" gradientUnits="userSpaceOnUse" x1="642.6" y1="698.8" x2="653" y2="704"><stop offset="0" stop-color="#3a8a98"/><stop offset="1" stop-color="#16a4d4"/></linearGradient></defs><polygon points="642.35,699.29 652.55,704.89 653.45,703.11 642.85,698.31" fill="url(#g99)"/><path d="M648.6 667 L710 667" fill="none" stroke="#e3173a" stroke-width="2.2" stroke-linejoin="miter" stroke-linecap="butt"/><path d="M648.6 678.4 L694 678.4 L694 690.4 L710 690.4" fill="none" stroke="#17a9dc" stroke-width="2.2" stroke-linejoin="miter" stroke-linecap="butt"/><defs><linearGradient id="g100" gradientUnits="userSpaceOnUse" x1="648.6" y1="667" x2="658" y2="672.7"><stop offset="0" stop-color="#d83a40"/><stop offset="1" stop-color="#8a6a66"/></linearGradient></defs><polygon points="648.08,667.86 657.71,673.17 658.29,672.23 649.12,666.14" fill="url(#g100)"/><defs><linearGradient id="g101" gradientUnits="userSpaceOnUse" x1="658" y1="672.7" x2="648.6" y2="678.4"><stop offset="0" stop-color="#3a8a98"/><stop offset="1" stop-color="#16a4d4"/></linearGradient></defs><polygon points="657.71,672.23 648.08,677.54 649.12,679.26 658.29,673.17" fill="url(#g101)"/><path d="M701.4 601.6 L694 601.6 L694 667" fill="none" stroke="#e3173a" stroke-width="2.2" stroke-linejoin="miter" stroke-linecap="butt"/><path d="M663.4 688 L684 688 L684 705.6 L736.6 705.6" fill="none" stroke="#e3173a" stroke-width="2.2" stroke-linejoin="miter" stroke-linecap="butt"/><defs><linearGradient id="g102" gradientUnits="userSpaceOnUse" x1="0" y1="706.7" x2="0" y2="690.4"><stop offset="0" stop-color="#e3173a"/><stop offset="0.5" stop-color="#8c7068"/><stop offset="1" stop-color="#17a9dc"/></linearGradient></defs><rect x="735.5" y="690.4" width="2.2" height="16.3" fill="url(#g102)"/><path d="M663.4 706 L673 706 L673 712 L745.4 712 L745.4 614.4 L738 614.4" fill="none" stroke="#17a9dc" stroke-width="2.2" stroke-linejoin="miter" stroke-linecap="butt"/><path d="M728.6 690.4 L741 690.4" fill="none" stroke="#17a9dc" stroke-width="2.2" stroke-linejoin="miter" stroke-linecap="butt"/><line x1="661.2" y1="673" x2="665.6" y2="673" stroke="#1a1a1a" stroke-width="1.5"/><circle cx="668" cy="673" r="2.55" fill="#ee7030" stroke="#c85a20" stroke-width="0.4"/><line x1="661.2" y1="699.6" x2="665.6" y2="699.6" stroke="#1a1a1a" stroke-width="1.5"/><circle cx="668" cy="699.6" r="2.55" fill="#ee7030" stroke="#c85a20" stroke-width="0.4"/><line x1="746.4" y1="680.4" x2="748.6" y2="680.4" stroke="#1a1a1a" stroke-width="1.5"/><circle cx="751" cy="680.4" r="2.55" fill="#ee7030" stroke="#c85a20" stroke-width="0.4"/><polygon points="740.2,687.9 740.2,692.5 745.1,690.9 745.1,689.5" fill="#151515" stroke="#151515" stroke-width="0.4" stroke-linejoin="round"/><polygon points="743.3,685 747.5,685 746.2,690.5 744.6,690.5" fill="#151515" stroke="#151515" stroke-width="0.4" stroke-linejoin="round"/><polygon points="743.2,695.8 747.6,695.8 745.4,691" fill="#fff" stroke="#aaaaaa" stroke-width="0.5" stroke-linejoin="round"/><polygon points="605.5,666.5 610.7,666.5 609.1,672.8 607.1,672.8" fill="#151515" stroke="#151515" stroke-width="0.5" stroke-linejoin="round"/><polygon points="605.5,679.1 610.7,679.1 609.1,672.8 607.1,672.8" fill="#151515" stroke="#151515" stroke-width="0.5" stroke-linejoin="round"/><polygon points="610.2,672.8 614.1,669.7 614.1,675.9" fill="#fff" stroke="#a8a8a8" stroke-width="0.6" stroke-linejoin="round"/><circle cx="570.2" cy="673" r="5.5" fill="#fff" stroke="#9c9c9c" stroke-width="0.95"/><polygon points="570.2,668.78 566.08,675.26 574.33,675.26" fill="#1a1a1a"/><circle cx="678.6" cy="678.4" r="5.5" fill="#fff" stroke="#9c9c9c" stroke-width="0.95"/><polygon points="682.82,678.4 676.34,674.27 676.34,682.52" fill="#1a1a1a"/><circle cx="694" cy="630.4" r="5.5" fill="#fff" stroke="#9c9c9c" stroke-width="0.95"/><polygon points="694,626.18 689.88,632.66 698.12,632.66" fill="#1a1a1a"/><defs><linearGradient id="g103" gradientUnits="userSpaceOnUse" x1="570.2" y1="645.8" x2="598" y2="617.7"><stop offset="0" stop-color="#0a9cba"/><stop offset="0.5" stop-color="#8e7a76"/><stop offset="1" stop-color="#dc3038"/></linearGradient></defs><polygon points="568.1,644.01 595.69,616.12 593.88,614.33 566.29,642.21" fill="#fff" stroke="#6a6a6a" stroke-width="0.65"/><polygon points="570.59,646.19 598.39,618.09 596.05,615.77 568.25,643.87" fill="url(#g103)" stroke="#2e2e2e" stroke-width="0.65"/><line x1="594.52" y1="615.53" x2="596" y2="614.03" stroke="#1a1a1a" stroke-width="2.3"/><circle cx="597.69" cy="612.33" r="2.45" fill="#ee7030" stroke="#c85a20" stroke-width="0.4"/>
<rect x="831" y="592" width="203" height="129.6" rx="16.5" ry="16.5" fill="#fff" stroke="#929292" stroke-width="1.45"/><path d="M839.9 605.5 L843.6 601.8 L843.6 614.9" fill="none" stroke="#a0a0a0" stroke-width="1.95" stroke-linejoin="miter"/><text x="847.6" y="614.9" class="num">6</text><defs><linearGradient id="g104" x1="0" y1="0" x2="0" y2="1"><stop offset="0" stop-color="#f5937a"/><stop offset="0.55" stop-color="#aca6a2"/><stop offset="1" stop-color="#38c0de"/></linearGradient></defs><path d="M925 657.5 C930.4 655.5 946.6 655.5 952 657.5 L952 707.5 C946.6 709.5 930.4 709.5 925 707.5 Z" fill="url(#g104)" stroke="rgba(40,40,40,0.6)" stroke-width="0.75"/><defs><linearGradient id="g105" x1="0" y1="0" x2="0" y2="1"><stop offset="0" stop-color="#f5937a"/><stop offset="0.55" stop-color="#aca6a2"/><stop offset="1" stop-color="#38c0de"/></linearGradient></defs><path d="M990 657.5 C995.48 655.5 1011.92 655.5 1017.4 657.5 L1017.4 707.5 C1011.92 709.5 995.48 709.5 990 707.5 Z" fill="url(#g105)" stroke="rgba(40,40,40,0.6)" stroke-width="0.75"/><path d="M880.3 604.8 L890.9 604.8 L890.9 689.6 L941 689.6" fill="none" stroke="#e3173a" stroke-width="2.2" stroke-linejoin="miter" stroke-linecap="butt"/><path d="M897 651.6 L982 651.6 L982 689.6 L1006 689.6" fill="none" stroke="#e3173a" stroke-width="2.2" stroke-linejoin="miter" stroke-linecap="butt"/><path d="M849.1 635 L849.1 701.6 L941 701.6" fill="none" stroke="#17a9dc" stroke-width="2.2" stroke-linejoin="miter" stroke-linecap="butt"/><path d="M866.6 701.6 L866.6 714.4 L979.4 714.4 L979.4 701.6 L1006 701.6" fill="none" stroke="#17a9dc" stroke-width="2.2" stroke-linejoin="miter" stroke-linecap="butt"/><defs><linearGradient id="g106" gradientUnits="userSpaceOnUse" x1="941" y1="689.6" x2="929" y2="695.6"><stop offset="0" stop-color="#d83a40"/><stop offset="1" stop-color="#8a6a66"/></linearGradient></defs><polygon points="940.55,688.71 928.75,695.11 929.25,696.09 941.45,690.49" fill="url(#g106)"/><defs><linearGradient id="g107" gradientUnits="userSpaceOnUse" x1="929" y1="695.6" x2="941" y2="701.6"><stop offset="0" stop-color="#3a8a98"/><stop offset="1" stop-color="#16a4d4"/></linearGradient></defs><polygon points="928.75,696.09 940.55,702.49 941.45,700.71 929.25,695.11" fill="url(#g107)"/><defs><linearGradient id="g108" gradientUnits="userSpaceOnUse" x1="1006" y1="689.6" x2="994" y2="695.6"><stop offset="0" stop-color="#d83a40"/><stop offset="1" stop-color="#8a6a66"/></linearGradient></defs><polygon points="1005.55,688.71 993.75,695.11 994.25,696.09 1006.45,690.49" fill="url(#g108)"/><defs><linearGradient id="g109" gradientUnits="userSpaceOnUse" x1="994" y1="695.6" x2="1006" y2="701.6"><stop offset="0" stop-color="#3a8a98"/><stop offset="1" stop-color="#16a4d4"/></linearGradient></defs><polygon points="993.75,696.09 1005.55,702.49 1006.45,700.71 994.25,695.11" fill="url(#g109)"/><path d="M936 660 L990 660" fill="none" stroke="#e3173a" stroke-width="2.2" stroke-linejoin="miter" stroke-linecap="butt"/><path d="M936 672 L990 672" fill="none" stroke="#17a9dc" stroke-width="2.2" stroke-linejoin="miter" stroke-linecap="butt"/><defs><linearGradient id="g110" gradientUnits="userSpaceOnUse" x1="936" y1="660" x2="948" y2="666"><stop offset="0" stop-color="#d83a40"/><stop offset="1" stop-color="#8a6a66"/></linearGradient></defs><polygon points="935.55,660.89 947.75,666.49 948.25,665.51 936.45,659.11" fill="url(#g110)"/><defs><linearGradient id="g111" gradientUnits="userSpaceOnUse" x1="948" y1="666" x2="936" y2="672"><stop offset="0" stop-color="#3a8a98"/><stop offset="1" stop-color="#16a4d4"/></linearGradient></defs><polygon points="947.75,665.51 935.55,671.11 936.45,672.89 948.25,666.49" fill="url(#g111)"/><line x1="949.8" y1="666.4" x2="954.2" y2="666.4" stroke="#1a1a1a" stroke-width="1.5"/><circle cx="956.6" cy="666.4" r="2.55" fill="#ee7030" stroke="#c85a20" stroke-width="0.4"/><line x1="949.8" y1="695.6" x2="954.2" y2="695.6" stroke="#1a1a1a" stroke-width="1.5"/><circle cx="956.6" cy="695.6" r="2.55" fill="#ee7030" stroke="#c85a20" stroke-width="0.4"/><line x1="1015.2" y1="693" x2="1019.6" y2="693" stroke="#1a1a1a" stroke-width="1.5"/><circle cx="1022" cy="693" r="2.55" fill="#ee7030" stroke="#c85a20" stroke-width="0.4"/><polygon points="888.3,645.1 893.5,645.1 891.9,651.4 889.9,651.4" fill="#151515" stroke="#151515" stroke-width="0.5" stroke-linejoin="round"/><polygon points="888.3,657.7 893.5,657.7 891.9,651.4 889.9,651.4" fill="#151515" stroke="#151515" stroke-width="0.5" stroke-linejoin="round"/><polygon points="893,651.4 896.9,648.3 896.9,654.5" fill="#fff" stroke="#a8a8a8" stroke-width="0.6" stroke-linejoin="round"/><circle cx="849.1" cy="666" r="5.6" fill="#fff" stroke="#9c9c9c" stroke-width="0.95"/><polygon points="849.1,661.7 844.9,668.3 853.3,668.3" fill="#1a1a1a"/><circle cx="968.6" cy="672" r="5.6" fill="#fff" stroke="#9c9c9c" stroke-width="0.95"/><polygon points="964.3,672 970.9,667.8 970.9,676.2" fill="#1a1a1a"/><defs><linearGradient id="g112" gradientUnits="userSpaceOnUse" x1="849.1" y1="636.8" x2="880.5" y2="605.5"><stop offset="0" stop-color="#0a9cba"/><stop offset="0.5" stop-color="#8e7a76"/><stop offset="1" stop-color="#dc3038"/></linearGradient></defs><polygon points="847.02,634.99 878.2,603.91 876.4,602.1 845.22,633.19" fill="#fff" stroke="#6a6a6a" stroke-width="0.65"/><polygon points="849.49,637.19 880.89,605.89 878.56,603.55 847.16,634.85" fill="url(#g112)" stroke="#2e2e2e" stroke-width="0.65"/><line x1="877.04" y1="603.3" x2="878.53" y2="601.82" stroke="#1a1a1a" stroke-width="2.3"/><circle cx="880.23" cy="600.13" r="2.45" fill="#ee7030" stroke="#c85a20" stroke-width="0.4"/>
<text x="13.2" y="182.7" class="c" textLength="218.6" lengthAdjust="spacingAndGlyphs">Solarsystem mit 1 Speicher (Seite 9)</text>
<text x="285.8" y="182.7" class="c" textLength="251.7" lengthAdjust="spacingAndGlyphs">Solarsystem mit 2 Speichern und Wärme-</text>
<text x="286.6" y="200.75" class="c" textLength="119.7" lengthAdjust="spacingAndGlyphs">austausch (Seite 10)</text>
<text x="557.4" y="182.7" class="c" textLength="191.4" lengthAdjust="spacingAndGlyphs">Solarsystem mit 1 Speicher und</text>
<text x="558.2" y="200.75" class="c" textLength="139.7" lengthAdjust="spacingAndGlyphs">Nachheizung (Seite 11)</text>
<text x="829.7" y="182.7" class="c" textLength="259.3" lengthAdjust="spacingAndGlyphs">Solarsystem mit 1 Speicher und 3-Wege-Ven-</text>
<text x="830.5" y="200.75" class="c" textLength="222.9" lengthAdjust="spacingAndGlyphs">til zur Speicherschichtladung (Seite 11)</text>
<text x="13.2" y="366.7" class="c" textLength="198.3" lengthAdjust="spacingAndGlyphs">Solarsystem mit 2 Speichern und</text>
<text x="14" y="384.75" class="c" textLength="123.6" lengthAdjust="spacingAndGlyphs">Ventillogik (Seite 13)</text>
<text x="285.8" y="366.7" class="c" textLength="198.2" lengthAdjust="spacingAndGlyphs">Solarsystem mit 2 Speichern und</text>
<text x="286.6" y="384.75" class="c" textLength="138.8" lengthAdjust="spacingAndGlyphs">Pumpenlogik (Seite 14)</text>
<text x="557.4" y="366.7" class="c" textLength="197.8" lengthAdjust="spacingAndGlyphs">Solarsystem mit Ost-/Westdach</text>
<text x="558.2" y="384.75" class="c" textLength="58.1" lengthAdjust="spacingAndGlyphs">(Seite 15)</text>
<text x="829.7" y="366.7" class="c" textLength="191.8" lengthAdjust="spacingAndGlyphs">Solarsystem mit 1 Speicher und</text>
<text x="830.5" y="384.75" class="c" textLength="183.4" lengthAdjust="spacingAndGlyphs">Festbrennstoffkessel (Seite 16)</text>
<text x="13.2" y="552.8" class="c" textLength="190.6" lengthAdjust="spacingAndGlyphs">Solarsystem mit 1 Speicher und</text>
<text x="14" y="570.85" class="c" textLength="169.4" lengthAdjust="spacingAndGlyphs">Rücklaufanhebung (Seite 17)</text>
<text x="285.8" y="552.8" class="c" textLength="251.7" lengthAdjust="spacingAndGlyphs">Solarsystem mit 1 Speicher, Rücklaufanhe-</text>
<text x="286.6" y="570.85" class="c" textLength="197.4" lengthAdjust="spacingAndGlyphs">bung und Nachheizung (Seite 18)</text>
<text x="557.4" y="552.8" class="c" textLength="236" lengthAdjust="spacingAndGlyphs">Solarsystem mit Schichtenspeicher und</text>
<text x="558.2" y="570.85" class="c" textLength="166.4" lengthAdjust="spacingAndGlyphs">Wärmeaustausch (Seite 19)</text>
<text x="829.7" y="552.8" class="c" textLength="236.4" lengthAdjust="spacingAndGlyphs">Solarsystem mit Schichtenspeicher und</text>
<text x="830.5" y="570.85" class="c" textLength="138.8" lengthAdjust="spacingAndGlyphs">Nachheizung (Seite 20)</text>
<text x="13.2" y="740.6" class="c" textLength="237.8" lengthAdjust="spacingAndGlyphs">Solarsystem mit Schichtenspeicher und</text>
<text x="14" y="758.65" class="c" textLength="183.5" lengthAdjust="spacingAndGlyphs">Festbrennstoffkessel (Seite 21)</text>
<text x="285.8" y="740.6" class="c" textLength="236.4" lengthAdjust="spacingAndGlyphs">Solarsystem mit Schichtenspeicher und</text>
<text x="286.6" y="758.65" class="c" textLength="169.4" lengthAdjust="spacingAndGlyphs">Rücklaufanhebung (Seite 22)</text>
<text x="557.7" y="740.6" class="c" textLength="69.9" lengthAdjust="spacingAndGlyphs">Solarsystem</text>
<text x="637.3" y="740.6" class="c" textLength="19" lengthAdjust="spacingAndGlyphs">mit</text>
<text x="663.7" y="740.6" class="c" textLength="102.7" lengthAdjust="spacingAndGlyphs">Schichtenspeicher,</text>
<text x="777.6" y="740.6" class="c" textLength="34.1" lengthAdjust="spacingAndGlyphs">Rück-</text>
<text x="558.2" y="758.65" class="c" textLength="241.6" lengthAdjust="spacingAndGlyphs">laufanhebung und Nachheizung (Seite 23)</text>
<text x="829.7" y="740.6" class="c" textLength="236.4" lengthAdjust="spacingAndGlyphs">Solarsystem mit Schichtenspeicher und</text>
<text x="830.5" y="758.65" class="c" textLength="166.8" lengthAdjust="spacingAndGlyphs">Wärmeaustausch (Seite 24)</text>
</svg>
</body></html>
